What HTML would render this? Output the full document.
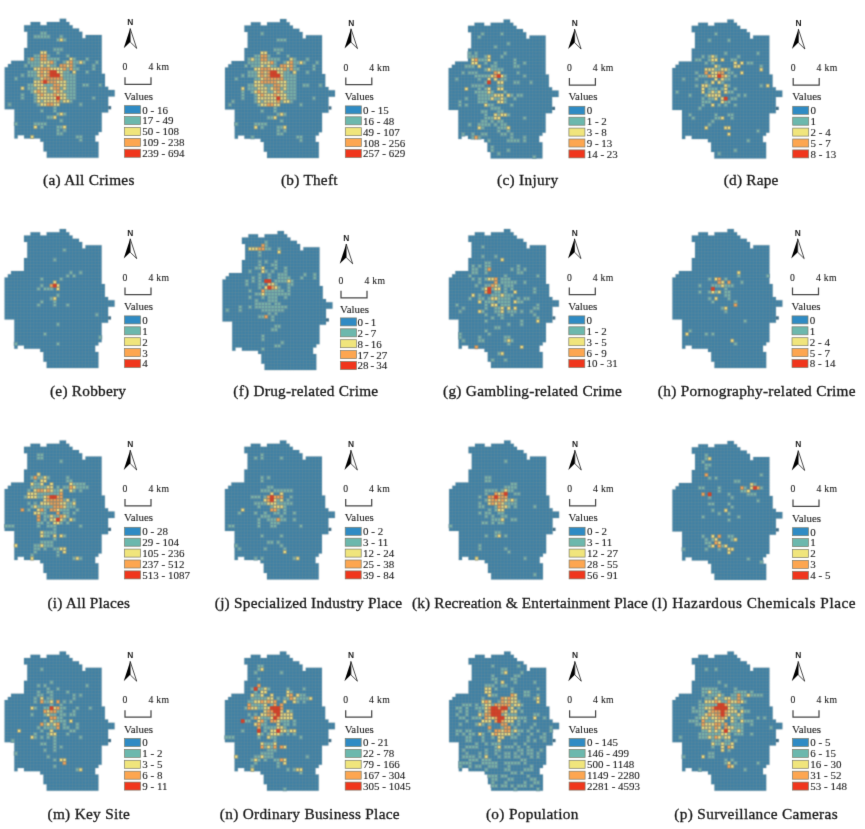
<!DOCTYPE html>
<html lang="en"><head><meta charset="utf-8"><title>Figure</title>
<style>
html,body{margin:0;padding:0;background:#fff;overflow:hidden}
svg{display:block}
text{font-family:"Liberation Serif","Times New Roman",serif;fill:#222}
.c{font-size:15.3px;fill:#1a1a1a;stroke:#1a1a1a;stroke-width:0.32px}
.l{font-size:11px;word-spacing:0px;stroke:#333;stroke-width:0.12px}
.v{font-size:10.9px;stroke:#333;stroke-width:0.12px}
.s{font-size:9.7px;stroke:#333;stroke-width:0.12px}
.n{font-family:"Liberation Sans",Arial,sans-serif;font-size:8.4px;font-weight:bold;fill:#222}
</style></head><body>
<svg width="865" height="829" viewBox="0 0 865 829">
<rect width="865" height="829" fill="#fff"/>
<defs>
<filter id="bm" x="-5%" y="-5%" width="110%" height="110%" color-interpolation-filters="sRGB"><feConvolveMatrix order="3" kernelMatrix="1 3 1 3 9 3 1 3 1" divisor="25" edgeMode="none"/></filter><filter id="bt" x="-5%" y="-20%" width="110%" height="140%" color-interpolation-filters="sRGB"><feConvolveMatrix order="3" kernelMatrix="0 1 0 1 8 1 0 1 0" divisor="12" edgeMode="none"/></filter>
<g id="base"><path d="M54.995 0H61.465V3.635H54.995zM25.88 3.235H35.585V6.87H25.88zM42.055 3.235H64.7V6.87H42.055zM19.41 6.47H67.935V10.105H19.41zM19.41 9.705H74.405V12.94H19.41zM22.645 12.94H77.64V16.575H22.645zM22.645 16.175H77.64V19.81H22.645zM80.875 16.175H97.05V19.81H80.875zM22.645 19.41H97.05V23.045H22.645zM22.645 22.645H97.05V26.28H22.645zM22.645 25.88H97.05V29.515H22.645zM19.41 29.115H97.05V32.75H19.41zM19.41 32.35H97.05V35.985H19.41zM19.41 35.585H97.05V39.22H19.41zM19.41 38.82H97.05V42.455H19.41zM6.47 42.055H97.05V45.69H6.47zM3.235 45.29H97.05V48.925H3.235zM0 48.525H97.05V52.16H0zM0 51.76H97.05V55.395H0zM0 54.995H100.285V58.63H0zM0 58.23H100.285V61.865H0zM0 61.465H100.285V65.1H0zM0 64.7H100.285V68.335H0zM0 67.935H103.52V71.57H0zM0 71.17H109.99V74.805H0zM0 74.405H109.99V77.64H0zM0 77.64H103.52V81.275H0zM0 80.875H103.52V84.51H0zM0 84.11H103.52V87.745H0zM0 87.345H103.52V90.58H0zM9.705 90.58H103.52V93.815H9.705zM9.705 93.815H97.05V97.45H9.705zM9.705 97.05H97.05V100.685H9.705zM9.705 100.285H97.05V103.92H9.705zM9.705 103.52H97.05V107.155H9.705zM9.705 106.755H97.05V110.39H9.705zM9.705 109.99H97.05V113.225H9.705zM9.705 113.225H93.815V116.46H9.705zM9.705 116.46H12.94V119.695H9.705zM19.41 116.46H90.58V119.695H19.41zM35.585 119.695H90.58V122.93H35.585zM38.82 122.93H93.815V126.565H38.82zM38.82 126.165H93.815V129.8H38.82zM38.82 129.4H93.815V132.635H38.82zM42.055 132.635H93.815V136.27H42.055zM42.055 135.87H93.815V139.105H42.055z" fill="#3e80a5"/><path d="M54.995 0H61.465M25.88 3.235H35.585M42.055 3.235H64.7M19.41 6.47H67.935M19.41 9.705H74.405M19.41 12.94H77.64M22.645 16.175H77.64M80.875 16.175H97.05M22.645 19.41H97.05M22.645 22.645H97.05M22.645 25.88H97.05M19.41 29.115H97.05M19.41 32.35H97.05M19.41 35.585H97.05M19.41 38.82H97.05M6.47 42.055H97.05M3.235 45.29H97.05M0 48.525H97.05M0 51.76H97.05M0 54.995H100.285M0 58.23H100.285M0 61.465H100.285M0 64.7H100.285M0 67.935H103.52M0 71.17H109.99M0 74.405H109.99M0 77.64H109.99M0 80.875H103.52M0 84.11H103.52M0 87.345H103.52M0 90.58H103.52M9.705 93.815H103.52M9.705 97.05H97.05M9.705 100.285H97.05M9.705 103.52H97.05M9.705 106.755H97.05M9.705 109.99H97.05M9.705 113.225H97.05M9.705 116.46H93.815M9.705 119.695H12.94M19.41 119.695H90.58M35.585 122.93H93.815M38.82 126.165H93.815M38.82 129.4H93.815M38.82 132.635H93.815M42.055 135.87H93.815M42.055 139.105H93.815M0 48.525V90.58M3.235 45.29V90.58M6.47 42.055V90.58M9.705 42.055V119.695M12.94 42.055V119.695M16.175 42.055V116.46M19.41 6.47V12.94M19.41 29.115V119.695M22.645 6.47V119.695M25.88 3.235V119.695M29.115 3.235V119.695M32.35 3.235V119.695M35.585 3.235V122.93M38.82 6.47V132.635M42.055 3.235V139.105M45.29 3.235V139.105M48.525 3.235V139.105M51.76 3.235V139.105M54.995 0V139.105M58.23 0V139.105M61.465 0V139.105M64.7 3.235V139.105M67.935 6.47V139.105M71.17 9.705V139.105M74.405 9.705V139.105M77.64 12.94V139.105M80.875 16.175V139.105M84.11 16.175V139.105M87.345 16.175V139.105M90.58 16.175V139.105M93.815 16.175V116.46M93.815 122.93V139.105M97.05 16.175V113.225M100.285 54.995V93.815M103.52 67.935V93.815M106.755 71.17V77.64M109.99 71.17V77.64" fill="none" stroke="#8a9793" stroke-width="0.8" stroke-opacity="0.3"/><rect x="103.52" y="87.345" width="2.911" height="3.235" fill="#3f6c85"/></g>
<g id="arw"><path d="M6 9.8L-0.5 29.6L6 23.2Z" fill="#000"/><path d="M6 9.8L12.5 29.6L6 23.2Z" fill="#fff" stroke="#000" stroke-width="0.7" stroke-linejoin="miter"/></g>
<path id="sbar" d="M0.8 58.6V65.6H26.8V58.6" fill="none" stroke="#484848" stroke-width="1.25"/>
</defs>
<!-- panel a -->
<g transform="translate(4.7 18.76)" filter="url(#bm)">
<use href="#base"/>
<path d="M35.585 12.94h3.235v3.235h-3.235zM38.82 12.94h3.235v3.235h-3.235zM29.115 16.175h3.235v3.235h-3.235zM32.35 16.175h3.235v3.235h-3.235zM35.585 16.175h3.235v3.235h-3.235zM38.82 16.175h3.235v3.235h-3.235zM42.055 16.175h3.235v3.235h-3.235zM54.995 16.175h3.235v3.235h-3.235zM51.76 19.41h3.235v3.235h-3.235zM58.23 19.41h3.235v3.235h-3.235zM48.525 29.115h3.235v3.235h-3.235zM51.76 29.115h3.235v3.235h-3.235zM54.995 29.115h3.235v3.235h-3.235zM51.76 32.35h3.235v3.235h-3.235zM29.115 35.585h3.235v3.235h-3.235zM32.35 35.585h3.235v3.235h-3.235zM42.055 35.585h3.235v3.235h-3.235zM61.465 35.585h3.235v3.235h-3.235zM22.645 38.82h3.235v3.235h-3.235zM29.115 38.82h3.235v3.235h-3.235zM32.35 38.82h3.235v3.235h-3.235zM42.055 38.82h3.235v3.235h-3.235zM45.29 38.82h3.235v3.235h-3.235zM48.525 38.82h3.235v3.235h-3.235zM51.76 38.82h3.235v3.235h-3.235zM67.935 38.82h3.235v3.235h-3.235zM80.875 38.82h3.235v3.235h-3.235zM22.645 42.055h3.235v3.235h-3.235zM25.88 42.055h3.235v3.235h-3.235zM29.115 42.055h3.235v3.235h-3.235zM32.35 42.055h3.235v3.235h-3.235zM48.525 42.055h3.235v3.235h-3.235zM58.23 42.055h3.235v3.235h-3.235zM67.935 42.055h3.235v3.235h-3.235zM71.17 42.055h3.235v3.235h-3.235zM77.64 42.055h3.235v3.235h-3.235zM90.58 42.055h3.235v3.235h-3.235zM19.41 45.29h3.235v3.235h-3.235zM25.88 45.29h3.235v3.235h-3.235zM29.115 45.29h3.235v3.235h-3.235zM32.35 45.29h3.235v3.235h-3.235zM38.82 45.29h3.235v3.235h-3.235zM45.29 45.29h3.235v3.235h-3.235zM48.525 45.29h3.235v3.235h-3.235zM67.935 45.29h3.235v3.235h-3.235zM87.345 45.29h3.235v3.235h-3.235zM61.465 48.525h3.235v3.235h-3.235zM67.935 48.525h3.235v3.235h-3.235zM71.17 48.525h3.235v3.235h-3.235zM87.345 48.525h3.235v3.235h-3.235zM22.645 51.76h3.235v3.235h-3.235zM25.88 51.76h3.235v3.235h-3.235zM29.115 51.76h3.235v3.235h-3.235zM58.23 51.76h3.235v3.235h-3.235zM61.465 51.76h3.235v3.235h-3.235zM80.875 51.76h3.235v3.235h-3.235zM16.175 54.995h3.235v3.235h-3.235zM22.645 54.995h3.235v3.235h-3.235zM25.88 54.995h3.235v3.235h-3.235zM29.115 54.995h3.235v3.235h-3.235zM58.23 54.995h3.235v3.235h-3.235zM61.465 54.995h3.235v3.235h-3.235zM64.7 54.995h3.235v3.235h-3.235zM67.935 54.995h3.235v3.235h-3.235zM9.705 58.23h3.235v3.235h-3.235zM29.115 58.23h3.235v3.235h-3.235zM32.35 58.23h3.235v3.235h-3.235zM58.23 58.23h3.235v3.235h-3.235zM61.465 58.23h3.235v3.235h-3.235zM64.7 58.23h3.235v3.235h-3.235zM67.935 58.23h3.235v3.235h-3.235zM61.465 61.465h3.235v3.235h-3.235zM64.7 61.465h3.235v3.235h-3.235zM67.935 61.465h3.235v3.235h-3.235zM22.645 64.7h3.235v3.235h-3.235zM25.88 64.7h3.235v3.235h-3.235zM38.82 64.7h3.235v3.235h-3.235zM42.055 64.7h3.235v3.235h-3.235zM45.29 64.7h3.235v3.235h-3.235zM61.465 64.7h3.235v3.235h-3.235zM64.7 64.7h3.235v3.235h-3.235zM67.935 64.7h3.235v3.235h-3.235zM77.64 64.7h3.235v3.235h-3.235zM80.875 64.7h3.235v3.235h-3.235zM93.815 64.7h3.235v3.235h-3.235zM22.645 67.935h3.235v3.235h-3.235zM25.88 67.935h3.235v3.235h-3.235zM29.115 67.935h3.235v3.235h-3.235zM42.055 67.935h3.235v3.235h-3.235zM54.995 67.935h3.235v3.235h-3.235zM61.465 67.935h3.235v3.235h-3.235zM64.7 67.935h3.235v3.235h-3.235zM67.935 67.935h3.235v3.235h-3.235zM25.88 71.17h3.235v3.235h-3.235zM42.055 71.17h3.235v3.235h-3.235zM45.29 71.17h3.235v3.235h-3.235zM58.23 71.17h3.235v3.235h-3.235zM61.465 71.17h3.235v3.235h-3.235zM64.7 71.17h3.235v3.235h-3.235zM67.935 71.17h3.235v3.235h-3.235zM16.175 74.405h3.235v3.235h-3.235zM29.115 74.405h3.235v3.235h-3.235zM61.465 74.405h3.235v3.235h-3.235zM64.7 74.405h3.235v3.235h-3.235zM67.935 74.405h3.235v3.235h-3.235zM16.175 77.64h3.235v3.235h-3.235zM29.115 77.64h3.235v3.235h-3.235zM61.465 77.64h3.235v3.235h-3.235zM64.7 77.64h3.235v3.235h-3.235zM67.935 77.64h3.235v3.235h-3.235zM87.345 77.64h3.235v3.235h-3.235zM29.115 80.875h3.235v3.235h-3.235zM35.585 80.875h3.235v3.235h-3.235zM54.995 80.875h3.235v3.235h-3.235zM64.7 80.875h3.235v3.235h-3.235zM3.235 84.11h3.235v3.235h-3.235zM32.35 84.11h3.235v3.235h-3.235zM74.405 84.11h3.235v3.235h-3.235zM48.525 87.345h3.235v3.235h-3.235zM35.585 90.58h3.235v3.235h-3.235zM48.525 90.58h3.235v3.235h-3.235zM51.76 93.815h3.235v3.235h-3.235zM58.23 93.815h3.235v3.235h-3.235zM42.055 97.05h3.235v3.235h-3.235zM45.29 97.05h3.235v3.235h-3.235zM54.995 100.285h3.235v3.235h-3.235zM9.705 103.52h3.235v3.235h-3.235zM29.115 103.52h3.235v3.235h-3.235zM32.35 103.52h3.235v3.235h-3.235zM35.585 103.52h3.235v3.235h-3.235zM38.82 103.52h3.235v3.235h-3.235zM35.585 106.755h3.235v3.235h-3.235zM51.76 106.755h3.235v3.235h-3.235zM54.995 106.755h3.235v3.235h-3.235zM51.76 109.99h3.235v3.235h-3.235zM58.23 109.99h3.235v3.235h-3.235zM51.76 113.225h3.235v3.235h-3.235zM54.995 113.225h3.235v3.235h-3.235zM71.17 116.46h3.235v3.235h-3.235zM74.405 116.46h3.235v3.235h-3.235zM74.405 119.695h3.235v3.235h-3.235z" fill="#7ab3a6" stroke="#6691a0" stroke-width="1.05"/>
<path d="M54.995 19.41h3.235v3.235h-3.235zM35.585 32.35h3.235v3.235h-3.235zM38.82 32.35h3.235v3.235h-3.235zM64.7 38.82h3.235v3.235h-3.235zM35.585 42.055h3.235v3.235h-3.235zM38.82 42.055h3.235v3.235h-3.235zM42.055 42.055h3.235v3.235h-3.235zM61.465 42.055h3.235v3.235h-3.235zM74.405 42.055h3.235v3.235h-3.235zM35.585 45.29h3.235v3.235h-3.235zM42.055 45.29h3.235v3.235h-3.235zM61.465 45.29h3.235v3.235h-3.235zM29.115 48.525h3.235v3.235h-3.235zM32.35 48.525h3.235v3.235h-3.235zM45.29 48.525h3.235v3.235h-3.235zM48.525 48.525h3.235v3.235h-3.235zM51.76 48.525h3.235v3.235h-3.235zM54.995 48.525h3.235v3.235h-3.235zM32.35 51.76h3.235v3.235h-3.235zM38.82 51.76h3.235v3.235h-3.235zM51.76 51.76h3.235v3.235h-3.235zM54.995 51.76h3.235v3.235h-3.235zM67.935 51.76h3.235v3.235h-3.235zM32.35 54.995h3.235v3.235h-3.235zM38.82 54.995h3.235v3.235h-3.235zM54.995 54.995h3.235v3.235h-3.235zM35.585 58.23h3.235v3.235h-3.235zM29.115 61.465h3.235v3.235h-3.235zM32.35 61.465h3.235v3.235h-3.235zM51.76 61.465h3.235v3.235h-3.235zM54.995 61.465h3.235v3.235h-3.235zM58.23 61.465h3.235v3.235h-3.235zM29.115 64.7h3.235v3.235h-3.235zM32.35 64.7h3.235v3.235h-3.235zM35.585 64.7h3.235v3.235h-3.235zM54.995 64.7h3.235v3.235h-3.235zM58.23 64.7h3.235v3.235h-3.235zM16.175 67.935h3.235v3.235h-3.235zM32.35 67.935h3.235v3.235h-3.235zM35.585 67.935h3.235v3.235h-3.235zM38.82 67.935h3.235v3.235h-3.235zM45.29 67.935h3.235v3.235h-3.235zM58.23 67.935h3.235v3.235h-3.235zM29.115 71.17h3.235v3.235h-3.235zM35.585 71.17h3.235v3.235h-3.235zM38.82 71.17h3.235v3.235h-3.235zM48.525 71.17h3.235v3.235h-3.235zM54.995 71.17h3.235v3.235h-3.235zM32.35 74.405h3.235v3.235h-3.235zM38.82 74.405h3.235v3.235h-3.235zM42.055 74.405h3.235v3.235h-3.235zM45.29 74.405h3.235v3.235h-3.235zM51.76 74.405h3.235v3.235h-3.235zM54.995 74.405h3.235v3.235h-3.235zM58.23 74.405h3.235v3.235h-3.235zM32.35 77.64h3.235v3.235h-3.235zM35.585 77.64h3.235v3.235h-3.235zM38.82 77.64h3.235v3.235h-3.235zM42.055 77.64h3.235v3.235h-3.235zM45.29 77.64h3.235v3.235h-3.235zM48.525 77.64h3.235v3.235h-3.235zM54.995 77.64h3.235v3.235h-3.235zM58.23 77.64h3.235v3.235h-3.235zM32.35 80.875h3.235v3.235h-3.235zM38.82 80.875h3.235v3.235h-3.235zM42.055 80.875h3.235v3.235h-3.235zM45.29 80.875h3.235v3.235h-3.235zM48.525 80.875h3.235v3.235h-3.235zM58.23 80.875h3.235v3.235h-3.235zM61.465 80.875h3.235v3.235h-3.235zM35.585 84.11h3.235v3.235h-3.235zM38.82 84.11h3.235v3.235h-3.235zM48.525 84.11h3.235v3.235h-3.235zM51.76 84.11h3.235v3.235h-3.235zM54.995 93.815h3.235v3.235h-3.235zM48.525 97.05h3.235v3.235h-3.235zM29.115 106.755h3.235v3.235h-3.235zM58.23 106.755h3.235v3.235h-3.235zM25.88 116.46h3.235v3.235h-3.235z" fill="#f1e07f" stroke="#8d917c" stroke-width="0.85"/>
<path d="M35.585 35.585h3.235v3.235h-3.235zM38.82 35.585h3.235v3.235h-3.235zM25.88 38.82h3.235v3.235h-3.235zM35.585 38.82h3.235v3.235h-3.235zM38.82 38.82h3.235v3.235h-3.235zM45.29 42.055h3.235v3.235h-3.235zM64.7 42.055h3.235v3.235h-3.235zM54.995 45.29h3.235v3.235h-3.235zM58.23 45.29h3.235v3.235h-3.235zM64.7 45.29h3.235v3.235h-3.235zM35.585 48.525h3.235v3.235h-3.235zM38.82 48.525h3.235v3.235h-3.235zM42.055 48.525h3.235v3.235h-3.235zM58.23 48.525h3.235v3.235h-3.235zM64.7 48.525h3.235v3.235h-3.235zM35.585 51.76h3.235v3.235h-3.235zM42.055 51.76h3.235v3.235h-3.235zM35.585 54.995h3.235v3.235h-3.235zM42.055 54.995h3.235v3.235h-3.235zM38.82 58.23h3.235v3.235h-3.235zM42.055 58.23h3.235v3.235h-3.235zM45.29 58.23h3.235v3.235h-3.235zM48.525 58.23h3.235v3.235h-3.235zM51.76 58.23h3.235v3.235h-3.235zM54.995 58.23h3.235v3.235h-3.235zM35.585 61.465h3.235v3.235h-3.235zM42.055 61.465h3.235v3.235h-3.235zM45.29 61.465h3.235v3.235h-3.235zM48.525 61.465h3.235v3.235h-3.235zM48.525 64.7h3.235v3.235h-3.235zM51.76 64.7h3.235v3.235h-3.235zM48.525 67.935h3.235v3.235h-3.235zM51.76 67.935h3.235v3.235h-3.235zM32.35 71.17h3.235v3.235h-3.235zM51.76 71.17h3.235v3.235h-3.235zM35.585 74.405h3.235v3.235h-3.235zM48.525 74.405h3.235v3.235h-3.235zM51.76 80.875h3.235v3.235h-3.235zM42.055 84.11h3.235v3.235h-3.235zM45.29 84.11h3.235v3.235h-3.235z" fill="#f6a354" stroke="#92866e" stroke-width="0.85"/>
<path d="M45.29 51.76h3.235v3.235h-3.235zM48.525 51.76h3.235v3.235h-3.235zM45.29 54.995h3.235v3.235h-3.235zM48.525 54.995h3.235v3.235h-3.235zM51.76 54.995h3.235v3.235h-3.235zM38.82 61.465h3.235v3.235h-3.235zM51.76 77.64h3.235v3.235h-3.235z" fill="#d5412a" stroke="#c4472e" stroke-width="0.6"/>
</g>
<g transform="translate(124.2 18.76)" filter="url(#bt)">
<use href="#arw" y="0"/>
<text class="n" x="6.2" y="6.6" text-anchor="middle">N</text>
<use href="#sbar" y="0"/>
<text class="s" x="-1.6" y="51.5">0</text><text class="s" x="24.2" y="51.5" textLength="20.6" lengthAdjust="spacing">4 km</text>
<text class="v" x="-0.2" y="81">Values</text>
<rect x="0.3" y="86.9" width="16" height="8" fill="#2f8bc4" stroke="#7c7c6c" stroke-width="0.7"/>
<text class="l" x="18.1" y="94.8">0 - 16</text>
<rect x="0.3" y="97.8" width="16" height="8" fill="#6cb8ad" stroke="#7c7c6c" stroke-width="0.7"/>
<text class="l" x="18.1" y="105.7">17 - 49</text>
<rect x="0.3" y="108.7" width="16" height="8" fill="#f0e57c" stroke="#7c7c6c" stroke-width="0.7"/>
<text class="l" x="18.1" y="116.6">50 - 108</text>
<rect x="0.3" y="119.6" width="16" height="8" fill="#fda650" stroke="#7c7c6c" stroke-width="0.7"/>
<text class="l" x="18.1" y="127.5">109 - 238</text>
<rect x="0.3" y="130.5" width="16" height="8" fill="#f0361c" stroke="#7c7c6c" stroke-width="0.7"/>
<text class="l" x="18.1" y="138.4">239 - 694</text>
</g>
<text class="c" filter="url(#bt)" x="43" y="185.2" textLength="91.4" lengthAdjust="spacing">(a) All Crimes</text>
<!-- panel b -->
<g transform="translate(225 19)" filter="url(#bm)">
<use href="#base"/>
<path d="M35.585 12.94h3.235v3.235h-3.235zM51.76 19.41h3.235v3.235h-3.235zM54.995 19.41h3.235v3.235h-3.235zM58.23 19.41h3.235v3.235h-3.235zM48.525 29.115h3.235v3.235h-3.235zM51.76 29.115h3.235v3.235h-3.235zM54.995 29.115h3.235v3.235h-3.235zM51.76 32.35h3.235v3.235h-3.235zM29.115 35.585h3.235v3.235h-3.235zM32.35 35.585h3.235v3.235h-3.235zM42.055 35.585h3.235v3.235h-3.235zM61.465 35.585h3.235v3.235h-3.235zM22.645 38.82h3.235v3.235h-3.235zM29.115 38.82h3.235v3.235h-3.235zM32.35 38.82h3.235v3.235h-3.235zM42.055 38.82h3.235v3.235h-3.235zM45.29 38.82h3.235v3.235h-3.235zM48.525 38.82h3.235v3.235h-3.235zM51.76 38.82h3.235v3.235h-3.235zM67.935 38.82h3.235v3.235h-3.235zM80.875 38.82h3.235v3.235h-3.235zM22.645 42.055h3.235v3.235h-3.235zM25.88 42.055h3.235v3.235h-3.235zM29.115 42.055h3.235v3.235h-3.235zM32.35 42.055h3.235v3.235h-3.235zM48.525 42.055h3.235v3.235h-3.235zM58.23 42.055h3.235v3.235h-3.235zM67.935 42.055h3.235v3.235h-3.235zM71.17 42.055h3.235v3.235h-3.235zM77.64 42.055h3.235v3.235h-3.235zM90.58 42.055h3.235v3.235h-3.235zM19.41 45.29h3.235v3.235h-3.235zM25.88 45.29h3.235v3.235h-3.235zM29.115 45.29h3.235v3.235h-3.235zM32.35 45.29h3.235v3.235h-3.235zM38.82 45.29h3.235v3.235h-3.235zM45.29 45.29h3.235v3.235h-3.235zM48.525 45.29h3.235v3.235h-3.235zM67.935 45.29h3.235v3.235h-3.235zM87.345 45.29h3.235v3.235h-3.235zM61.465 48.525h3.235v3.235h-3.235zM67.935 48.525h3.235v3.235h-3.235zM71.17 48.525h3.235v3.235h-3.235zM87.345 48.525h3.235v3.235h-3.235zM22.645 51.76h3.235v3.235h-3.235zM25.88 51.76h3.235v3.235h-3.235zM29.115 51.76h3.235v3.235h-3.235zM58.23 51.76h3.235v3.235h-3.235zM61.465 51.76h3.235v3.235h-3.235zM80.875 51.76h3.235v3.235h-3.235zM16.175 54.995h3.235v3.235h-3.235zM22.645 54.995h3.235v3.235h-3.235zM25.88 54.995h3.235v3.235h-3.235zM29.115 54.995h3.235v3.235h-3.235zM58.23 54.995h3.235v3.235h-3.235zM61.465 54.995h3.235v3.235h-3.235zM64.7 54.995h3.235v3.235h-3.235zM67.935 54.995h3.235v3.235h-3.235zM9.705 58.23h3.235v3.235h-3.235zM29.115 58.23h3.235v3.235h-3.235zM32.35 58.23h3.235v3.235h-3.235zM58.23 58.23h3.235v3.235h-3.235zM61.465 58.23h3.235v3.235h-3.235zM64.7 58.23h3.235v3.235h-3.235zM67.935 58.23h3.235v3.235h-3.235zM61.465 61.465h3.235v3.235h-3.235zM64.7 61.465h3.235v3.235h-3.235zM67.935 61.465h3.235v3.235h-3.235zM22.645 64.7h3.235v3.235h-3.235zM25.88 64.7h3.235v3.235h-3.235zM38.82 64.7h3.235v3.235h-3.235zM42.055 64.7h3.235v3.235h-3.235zM45.29 64.7h3.235v3.235h-3.235zM61.465 64.7h3.235v3.235h-3.235zM64.7 64.7h3.235v3.235h-3.235zM67.935 64.7h3.235v3.235h-3.235zM77.64 64.7h3.235v3.235h-3.235zM80.875 64.7h3.235v3.235h-3.235zM93.815 64.7h3.235v3.235h-3.235zM22.645 67.935h3.235v3.235h-3.235zM25.88 67.935h3.235v3.235h-3.235zM29.115 67.935h3.235v3.235h-3.235zM42.055 67.935h3.235v3.235h-3.235zM54.995 67.935h3.235v3.235h-3.235zM61.465 67.935h3.235v3.235h-3.235zM64.7 67.935h3.235v3.235h-3.235zM67.935 67.935h3.235v3.235h-3.235zM16.175 71.17h3.235v3.235h-3.235zM25.88 71.17h3.235v3.235h-3.235zM42.055 71.17h3.235v3.235h-3.235zM45.29 71.17h3.235v3.235h-3.235zM58.23 71.17h3.235v3.235h-3.235zM61.465 71.17h3.235v3.235h-3.235zM64.7 71.17h3.235v3.235h-3.235zM67.935 71.17h3.235v3.235h-3.235zM16.175 74.405h3.235v3.235h-3.235zM29.115 74.405h3.235v3.235h-3.235zM61.465 74.405h3.235v3.235h-3.235zM64.7 74.405h3.235v3.235h-3.235zM67.935 74.405h3.235v3.235h-3.235zM16.175 77.64h3.235v3.235h-3.235zM29.115 77.64h3.235v3.235h-3.235zM61.465 77.64h3.235v3.235h-3.235zM64.7 77.64h3.235v3.235h-3.235zM67.935 77.64h3.235v3.235h-3.235zM87.345 77.64h3.235v3.235h-3.235zM6.47 80.875h3.235v3.235h-3.235zM29.115 80.875h3.235v3.235h-3.235zM35.585 80.875h3.235v3.235h-3.235zM54.995 80.875h3.235v3.235h-3.235zM64.7 80.875h3.235v3.235h-3.235zM3.235 84.11h3.235v3.235h-3.235zM32.35 84.11h3.235v3.235h-3.235zM74.405 84.11h3.235v3.235h-3.235zM48.525 87.345h3.235v3.235h-3.235zM35.585 90.58h3.235v3.235h-3.235zM48.525 90.58h3.235v3.235h-3.235zM51.76 93.815h3.235v3.235h-3.235zM58.23 93.815h3.235v3.235h-3.235zM42.055 97.05h3.235v3.235h-3.235zM45.29 97.05h3.235v3.235h-3.235zM54.995 100.285h3.235v3.235h-3.235zM9.705 103.52h3.235v3.235h-3.235zM29.115 103.52h3.235v3.235h-3.235zM32.35 103.52h3.235v3.235h-3.235zM35.585 103.52h3.235v3.235h-3.235zM38.82 103.52h3.235v3.235h-3.235zM35.585 106.755h3.235v3.235h-3.235zM51.76 106.755h3.235v3.235h-3.235zM54.995 106.755h3.235v3.235h-3.235zM51.76 109.99h3.235v3.235h-3.235zM58.23 109.99h3.235v3.235h-3.235zM51.76 113.225h3.235v3.235h-3.235zM54.995 113.225h3.235v3.235h-3.235zM25.88 116.46h3.235v3.235h-3.235zM71.17 116.46h3.235v3.235h-3.235zM74.405 116.46h3.235v3.235h-3.235zM74.405 119.695h3.235v3.235h-3.235z" fill="#7ab3a6" stroke="#6691a0" stroke-width="1.05"/>
<path d="M35.585 32.35h3.235v3.235h-3.235zM38.82 32.35h3.235v3.235h-3.235zM25.88 38.82h3.235v3.235h-3.235zM64.7 38.82h3.235v3.235h-3.235zM35.585 42.055h3.235v3.235h-3.235zM38.82 42.055h3.235v3.235h-3.235zM42.055 42.055h3.235v3.235h-3.235zM61.465 42.055h3.235v3.235h-3.235zM74.405 42.055h3.235v3.235h-3.235zM35.585 45.29h3.235v3.235h-3.235zM42.055 45.29h3.235v3.235h-3.235zM61.465 45.29h3.235v3.235h-3.235zM29.115 48.525h3.235v3.235h-3.235zM32.35 48.525h3.235v3.235h-3.235zM45.29 48.525h3.235v3.235h-3.235zM48.525 48.525h3.235v3.235h-3.235zM51.76 48.525h3.235v3.235h-3.235zM54.995 48.525h3.235v3.235h-3.235zM32.35 51.76h3.235v3.235h-3.235zM38.82 51.76h3.235v3.235h-3.235zM51.76 51.76h3.235v3.235h-3.235zM54.995 51.76h3.235v3.235h-3.235zM67.935 51.76h3.235v3.235h-3.235zM32.35 54.995h3.235v3.235h-3.235zM38.82 54.995h3.235v3.235h-3.235zM54.995 54.995h3.235v3.235h-3.235zM35.585 58.23h3.235v3.235h-3.235zM29.115 61.465h3.235v3.235h-3.235zM32.35 61.465h3.235v3.235h-3.235zM51.76 61.465h3.235v3.235h-3.235zM54.995 61.465h3.235v3.235h-3.235zM58.23 61.465h3.235v3.235h-3.235zM29.115 64.7h3.235v3.235h-3.235zM32.35 64.7h3.235v3.235h-3.235zM35.585 64.7h3.235v3.235h-3.235zM54.995 64.7h3.235v3.235h-3.235zM58.23 64.7h3.235v3.235h-3.235zM16.175 67.935h3.235v3.235h-3.235zM32.35 67.935h3.235v3.235h-3.235zM35.585 67.935h3.235v3.235h-3.235zM38.82 67.935h3.235v3.235h-3.235zM45.29 67.935h3.235v3.235h-3.235zM58.23 67.935h3.235v3.235h-3.235zM29.115 71.17h3.235v3.235h-3.235zM35.585 71.17h3.235v3.235h-3.235zM38.82 71.17h3.235v3.235h-3.235zM48.525 71.17h3.235v3.235h-3.235zM54.995 71.17h3.235v3.235h-3.235zM32.35 74.405h3.235v3.235h-3.235zM38.82 74.405h3.235v3.235h-3.235zM42.055 74.405h3.235v3.235h-3.235zM45.29 74.405h3.235v3.235h-3.235zM51.76 74.405h3.235v3.235h-3.235zM54.995 74.405h3.235v3.235h-3.235zM58.23 74.405h3.235v3.235h-3.235zM32.35 77.64h3.235v3.235h-3.235zM35.585 77.64h3.235v3.235h-3.235zM38.82 77.64h3.235v3.235h-3.235zM42.055 77.64h3.235v3.235h-3.235zM45.29 77.64h3.235v3.235h-3.235zM48.525 77.64h3.235v3.235h-3.235zM54.995 77.64h3.235v3.235h-3.235zM58.23 77.64h3.235v3.235h-3.235zM32.35 80.875h3.235v3.235h-3.235zM38.82 80.875h3.235v3.235h-3.235zM42.055 80.875h3.235v3.235h-3.235zM45.29 80.875h3.235v3.235h-3.235zM48.525 80.875h3.235v3.235h-3.235zM58.23 80.875h3.235v3.235h-3.235zM61.465 80.875h3.235v3.235h-3.235zM35.585 84.11h3.235v3.235h-3.235zM38.82 84.11h3.235v3.235h-3.235zM48.525 84.11h3.235v3.235h-3.235zM51.76 84.11h3.235v3.235h-3.235zM54.995 93.815h3.235v3.235h-3.235zM48.525 97.05h3.235v3.235h-3.235zM29.115 106.755h3.235v3.235h-3.235zM58.23 106.755h3.235v3.235h-3.235z" fill="#f1e07f" stroke="#8d917c" stroke-width="0.85"/>
<path d="M35.585 35.585h3.235v3.235h-3.235zM38.82 35.585h3.235v3.235h-3.235zM35.585 38.82h3.235v3.235h-3.235zM38.82 38.82h3.235v3.235h-3.235zM45.29 42.055h3.235v3.235h-3.235zM64.7 42.055h3.235v3.235h-3.235zM54.995 45.29h3.235v3.235h-3.235zM58.23 45.29h3.235v3.235h-3.235zM64.7 45.29h3.235v3.235h-3.235zM35.585 48.525h3.235v3.235h-3.235zM38.82 48.525h3.235v3.235h-3.235zM42.055 48.525h3.235v3.235h-3.235zM58.23 48.525h3.235v3.235h-3.235zM64.7 48.525h3.235v3.235h-3.235zM35.585 51.76h3.235v3.235h-3.235zM42.055 51.76h3.235v3.235h-3.235zM35.585 54.995h3.235v3.235h-3.235zM42.055 54.995h3.235v3.235h-3.235zM38.82 58.23h3.235v3.235h-3.235zM42.055 58.23h3.235v3.235h-3.235zM45.29 58.23h3.235v3.235h-3.235zM48.525 58.23h3.235v3.235h-3.235zM51.76 58.23h3.235v3.235h-3.235zM54.995 58.23h3.235v3.235h-3.235zM35.585 61.465h3.235v3.235h-3.235zM38.82 61.465h3.235v3.235h-3.235zM42.055 61.465h3.235v3.235h-3.235zM45.29 61.465h3.235v3.235h-3.235zM48.525 61.465h3.235v3.235h-3.235zM48.525 64.7h3.235v3.235h-3.235zM51.76 64.7h3.235v3.235h-3.235zM48.525 67.935h3.235v3.235h-3.235zM51.76 67.935h3.235v3.235h-3.235zM32.35 71.17h3.235v3.235h-3.235zM51.76 71.17h3.235v3.235h-3.235zM35.585 74.405h3.235v3.235h-3.235zM48.525 74.405h3.235v3.235h-3.235zM51.76 80.875h3.235v3.235h-3.235zM42.055 84.11h3.235v3.235h-3.235zM45.29 84.11h3.235v3.235h-3.235z" fill="#f6a354" stroke="#92866e" stroke-width="0.85"/>
<path d="M45.29 51.76h3.235v3.235h-3.235zM48.525 51.76h3.235v3.235h-3.235zM45.29 54.995h3.235v3.235h-3.235zM48.525 54.995h3.235v3.235h-3.235zM51.76 54.995h3.235v3.235h-3.235zM51.76 77.64h3.235v3.235h-3.235z" fill="#d5412a" stroke="#c4472e" stroke-width="0.6"/>
</g>
<g transform="translate(345 19)" filter="url(#bt)">
<use href="#arw" y="0"/>
<text class="n" x="6.2" y="6.6" text-anchor="middle">N</text>
<use href="#sbar" y="0"/>
<text class="s" x="-1.6" y="51.5">0</text><text class="s" x="24.2" y="51.5" textLength="20.6" lengthAdjust="spacing">4 km</text>
<text class="v" x="-0.2" y="81">Values</text>
<rect x="0.3" y="86.9" width="16" height="8" fill="#2f8bc4" stroke="#7c7c6c" stroke-width="0.7"/>
<text class="l" x="18.1" y="94.8">0 - 15</text>
<rect x="0.3" y="97.8" width="16" height="8" fill="#6cb8ad" stroke="#7c7c6c" stroke-width="0.7"/>
<text class="l" x="18.1" y="105.7">16 - 48</text>
<rect x="0.3" y="108.7" width="16" height="8" fill="#f0e57c" stroke="#7c7c6c" stroke-width="0.7"/>
<text class="l" x="18.1" y="116.6">49 - 107</text>
<rect x="0.3" y="119.6" width="16" height="8" fill="#fda650" stroke="#7c7c6c" stroke-width="0.7"/>
<text class="l" x="18.1" y="127.5">108 - 256</text>
<rect x="0.3" y="130.5" width="16" height="8" fill="#f0361c" stroke="#7c7c6c" stroke-width="0.7"/>
<text class="l" x="18.1" y="138.4">257 - 629</text>
</g>
<text class="c" filter="url(#bt)" x="281" y="185.2" textLength="56.5" lengthAdjust="spacing">(b) Theft</text>
<!-- panel c -->
<g transform="translate(448.6 19.4)" filter="url(#bm)">
<use href="#base"/>
<path d="M32.35 12.94h3.235v3.235h-3.235zM51.76 12.94h3.235v3.235h-3.235zM29.115 16.175h3.235v3.235h-3.235zM58.23 22.645h3.235v3.235h-3.235zM45.29 25.88h3.235v3.235h-3.235zM19.41 32.35h3.235v3.235h-3.235zM25.88 32.35h3.235v3.235h-3.235zM54.995 32.35h3.235v3.235h-3.235zM19.41 35.585h3.235v3.235h-3.235zM22.645 35.585h3.235v3.235h-3.235zM25.88 35.585h3.235v3.235h-3.235zM35.585 35.585h3.235v3.235h-3.235zM51.76 35.585h3.235v3.235h-3.235zM29.115 38.82h3.235v3.235h-3.235zM32.35 38.82h3.235v3.235h-3.235zM35.585 38.82h3.235v3.235h-3.235zM64.7 38.82h3.235v3.235h-3.235zM35.585 42.055h3.235v3.235h-3.235zM45.29 42.055h3.235v3.235h-3.235zM64.7 42.055h3.235v3.235h-3.235zM74.405 42.055h3.235v3.235h-3.235zM16.175 45.29h3.235v3.235h-3.235zM19.41 45.29h3.235v3.235h-3.235zM22.645 45.29h3.235v3.235h-3.235zM42.055 45.29h3.235v3.235h-3.235zM45.29 45.29h3.235v3.235h-3.235zM64.7 45.29h3.235v3.235h-3.235zM67.935 45.29h3.235v3.235h-3.235zM35.585 48.525h3.235v3.235h-3.235zM42.055 48.525h3.235v3.235h-3.235zM45.29 48.525h3.235v3.235h-3.235zM48.525 48.525h3.235v3.235h-3.235zM51.76 48.525h3.235v3.235h-3.235zM12.94 51.76h3.235v3.235h-3.235zM19.41 51.76h3.235v3.235h-3.235zM22.645 51.76h3.235v3.235h-3.235zM25.88 51.76h3.235v3.235h-3.235zM67.935 51.76h3.235v3.235h-3.235zM25.88 54.995h3.235v3.235h-3.235zM29.115 54.995h3.235v3.235h-3.235zM32.35 54.995h3.235v3.235h-3.235zM35.585 54.995h3.235v3.235h-3.235zM38.82 54.995h3.235v3.235h-3.235zM54.995 54.995h3.235v3.235h-3.235zM74.405 54.995h3.235v3.235h-3.235zM6.47 58.23h3.235v3.235h-3.235zM29.115 58.23h3.235v3.235h-3.235zM51.76 58.23h3.235v3.235h-3.235zM54.995 58.23h3.235v3.235h-3.235zM35.585 61.465h3.235v3.235h-3.235zM64.7 61.465h3.235v3.235h-3.235zM67.935 61.465h3.235v3.235h-3.235zM80.875 61.465h3.235v3.235h-3.235zM22.645 64.7h3.235v3.235h-3.235zM25.88 64.7h3.235v3.235h-3.235zM29.115 64.7h3.235v3.235h-3.235zM32.35 64.7h3.235v3.235h-3.235zM48.525 64.7h3.235v3.235h-3.235zM51.76 64.7h3.235v3.235h-3.235zM29.115 67.935h3.235v3.235h-3.235zM35.585 67.935h3.235v3.235h-3.235zM25.88 71.17h3.235v3.235h-3.235zM29.115 71.17h3.235v3.235h-3.235zM32.35 71.17h3.235v3.235h-3.235zM35.585 71.17h3.235v3.235h-3.235zM42.055 71.17h3.235v3.235h-3.235zM54.995 71.17h3.235v3.235h-3.235zM29.115 74.405h3.235v3.235h-3.235zM32.35 74.405h3.235v3.235h-3.235zM35.585 74.405h3.235v3.235h-3.235zM38.82 74.405h3.235v3.235h-3.235zM42.055 74.405h3.235v3.235h-3.235zM61.465 74.405h3.235v3.235h-3.235zM67.935 74.405h3.235v3.235h-3.235zM71.17 74.405h3.235v3.235h-3.235zM16.175 77.64h3.235v3.235h-3.235zM29.115 77.64h3.235v3.235h-3.235zM32.35 77.64h3.235v3.235h-3.235zM35.585 77.64h3.235v3.235h-3.235zM38.82 77.64h3.235v3.235h-3.235zM45.29 77.64h3.235v3.235h-3.235zM48.525 77.64h3.235v3.235h-3.235zM54.995 77.64h3.235v3.235h-3.235zM64.7 77.64h3.235v3.235h-3.235zM9.705 80.875h3.235v3.235h-3.235zM29.115 80.875h3.235v3.235h-3.235zM32.35 80.875h3.235v3.235h-3.235zM35.585 80.875h3.235v3.235h-3.235zM54.995 80.875h3.235v3.235h-3.235zM9.705 84.11h3.235v3.235h-3.235zM16.175 84.11h3.235v3.235h-3.235zM38.82 84.11h3.235v3.235h-3.235zM42.055 84.11h3.235v3.235h-3.235zM61.465 84.11h3.235v3.235h-3.235zM42.055 87.345h3.235v3.235h-3.235zM45.29 87.345h3.235v3.235h-3.235zM48.525 87.345h3.235v3.235h-3.235zM32.35 90.58h3.235v3.235h-3.235zM35.585 90.58h3.235v3.235h-3.235zM48.525 90.58h3.235v3.235h-3.235zM51.76 90.58h3.235v3.235h-3.235zM35.585 93.815h3.235v3.235h-3.235zM48.525 93.815h3.235v3.235h-3.235zM58.23 93.815h3.235v3.235h-3.235zM35.585 97.05h3.235v3.235h-3.235zM38.82 97.05h3.235v3.235h-3.235zM42.055 97.05h3.235v3.235h-3.235zM74.405 97.05h3.235v3.235h-3.235zM32.35 100.285h3.235v3.235h-3.235zM35.585 100.285h3.235v3.235h-3.235zM42.055 100.285h3.235v3.235h-3.235zM48.525 100.285h3.235v3.235h-3.235zM51.76 100.285h3.235v3.235h-3.235zM19.41 103.52h3.235v3.235h-3.235zM29.115 103.52h3.235v3.235h-3.235zM32.35 103.52h3.235v3.235h-3.235zM35.585 103.52h3.235v3.235h-3.235zM38.82 103.52h3.235v3.235h-3.235zM45.29 103.52h3.235v3.235h-3.235zM51.76 103.52h3.235v3.235h-3.235zM54.995 103.52h3.235v3.235h-3.235zM32.35 106.755h3.235v3.235h-3.235zM48.525 106.755h3.235v3.235h-3.235zM51.76 106.755h3.235v3.235h-3.235zM54.995 106.755h3.235v3.235h-3.235zM48.525 109.99h3.235v3.235h-3.235zM58.23 109.99h3.235v3.235h-3.235zM12.94 113.225h3.235v3.235h-3.235zM22.645 113.225h3.235v3.235h-3.235zM32.35 113.225h3.235v3.235h-3.235zM35.585 113.225h3.235v3.235h-3.235zM51.76 113.225h3.235v3.235h-3.235zM54.995 113.225h3.235v3.235h-3.235zM61.465 113.225h3.235v3.235h-3.235zM22.645 116.46h3.235v3.235h-3.235zM29.115 116.46h3.235v3.235h-3.235zM61.465 116.46h3.235v3.235h-3.235zM74.405 116.46h3.235v3.235h-3.235zM38.82 119.695h3.235v3.235h-3.235zM58.23 119.695h3.235v3.235h-3.235zM61.465 119.695h3.235v3.235h-3.235zM64.7 119.695h3.235v3.235h-3.235zM67.935 119.695h3.235v3.235h-3.235zM74.405 119.695h3.235v3.235h-3.235zM42.055 126.165h3.235v3.235h-3.235zM42.055 129.4h3.235v3.235h-3.235zM58.23 129.4h3.235v3.235h-3.235zM48.525 132.635h3.235v3.235h-3.235zM84.11 135.87h3.235v3.235h-3.235z" fill="#7ab3a6" stroke="#6691a0" stroke-width="1.05"/>
<path d="M38.82 35.585h3.235v3.235h-3.235zM22.645 38.82h3.235v3.235h-3.235zM38.82 38.82h3.235v3.235h-3.235zM22.645 42.055h3.235v3.235h-3.235zM25.88 42.055h3.235v3.235h-3.235zM29.115 45.29h3.235v3.235h-3.235zM38.82 48.525h3.235v3.235h-3.235zM48.525 51.76h3.235v3.235h-3.235zM42.055 54.995h3.235v3.235h-3.235zM51.76 54.995h3.235v3.235h-3.235zM38.82 58.23h3.235v3.235h-3.235zM45.29 58.23h3.235v3.235h-3.235zM48.525 61.465h3.235v3.235h-3.235zM51.76 61.465h3.235v3.235h-3.235zM16.175 67.935h3.235v3.235h-3.235zM38.82 67.935h3.235v3.235h-3.235zM48.525 67.935h3.235v3.235h-3.235zM51.76 67.935h3.235v3.235h-3.235zM38.82 71.17h3.235v3.235h-3.235zM45.29 74.405h3.235v3.235h-3.235zM48.525 74.405h3.235v3.235h-3.235zM51.76 74.405h3.235v3.235h-3.235zM58.23 74.405h3.235v3.235h-3.235zM42.055 77.64h3.235v3.235h-3.235zM51.76 77.64h3.235v3.235h-3.235zM48.525 80.875h3.235v3.235h-3.235zM51.76 80.875h3.235v3.235h-3.235zM35.585 84.11h3.235v3.235h-3.235zM45.29 93.815h3.235v3.235h-3.235zM51.76 93.815h3.235v3.235h-3.235zM54.995 93.815h3.235v3.235h-3.235zM45.29 97.05h3.235v3.235h-3.235zM48.525 97.05h3.235v3.235h-3.235zM29.115 106.755h3.235v3.235h-3.235zM58.23 106.755h3.235v3.235h-3.235z" fill="#f1e07f" stroke="#8d917c" stroke-width="0.85"/>
<path d="M25.88 38.82h3.235v3.235h-3.235zM45.29 51.76h3.235v3.235h-3.235zM45.29 54.995h3.235v3.235h-3.235zM25.88 116.46h3.235v3.235h-3.235z" fill="#f6a354" stroke="#92866e" stroke-width="0.85"/>
<path d="M48.525 54.995h3.235v3.235h-3.235zM38.82 61.465h3.235v3.235h-3.235z" fill="#d5412a" stroke="#c4472e" stroke-width="0.6"/>
</g>
<g transform="translate(568.6 19.4)" filter="url(#bt)">
<use href="#arw" y="0"/>
<text class="n" x="6.2" y="6.6" text-anchor="middle">N</text>
<use href="#sbar" y="0"/>
<text class="s" x="-1.6" y="51.5">0</text><text class="s" x="24.2" y="51.5" textLength="20.6" lengthAdjust="spacing">4 km</text>
<text class="v" x="-0.2" y="81">Values</text>
<rect x="0.3" y="86.9" width="16" height="8" fill="#2f8bc4" stroke="#7c7c6c" stroke-width="0.7"/>
<text class="l" x="18.1" y="94.8">0</text>
<rect x="0.3" y="97.8" width="16" height="8" fill="#6cb8ad" stroke="#7c7c6c" stroke-width="0.7"/>
<text class="l" x="18.1" y="105.7">1 - 2</text>
<rect x="0.3" y="108.7" width="16" height="8" fill="#f0e57c" stroke="#7c7c6c" stroke-width="0.7"/>
<text class="l" x="18.1" y="116.6">3 - 8</text>
<rect x="0.3" y="119.6" width="16" height="8" fill="#fda650" stroke="#7c7c6c" stroke-width="0.7"/>
<text class="l" x="18.1" y="127.5">9 - 13</text>
<rect x="0.3" y="130.5" width="16" height="8" fill="#f0361c" stroke="#7c7c6c" stroke-width="0.7"/>
<text class="l" x="18.1" y="138.4">14 - 23</text>
</g>
<text class="c" filter="url(#bt)" x="497" y="185.2" textLength="61.1" lengthAdjust="spacing">(c) Injury</text>
<!-- panel d -->
<g transform="translate(672.3 19.4)" filter="url(#bm)">
<use href="#base"/>
<path d="M42.055 12.94h3.235v3.235h-3.235zM35.585 19.41h3.235v3.235h-3.235zM54.995 19.41h3.235v3.235h-3.235zM51.76 32.35h3.235v3.235h-3.235zM84.11 32.35h3.235v3.235h-3.235zM29.115 35.585h3.235v3.235h-3.235zM35.585 35.585h3.235v3.235h-3.235zM42.055 35.585h3.235v3.235h-3.235zM64.7 35.585h3.235v3.235h-3.235zM22.645 38.82h3.235v3.235h-3.235zM25.88 38.82h3.235v3.235h-3.235zM35.585 38.82h3.235v3.235h-3.235zM58.23 38.82h3.235v3.235h-3.235zM61.465 38.82h3.235v3.235h-3.235zM32.35 42.055h3.235v3.235h-3.235zM38.82 42.055h3.235v3.235h-3.235zM74.405 42.055h3.235v3.235h-3.235zM77.64 42.055h3.235v3.235h-3.235zM45.29 45.29h3.235v3.235h-3.235zM87.345 45.29h3.235v3.235h-3.235zM42.055 48.525h3.235v3.235h-3.235zM45.29 48.525h3.235v3.235h-3.235zM54.995 48.525h3.235v3.235h-3.235zM22.645 51.76h3.235v3.235h-3.235zM54.995 51.76h3.235v3.235h-3.235zM58.23 51.76h3.235v3.235h-3.235zM25.88 54.995h3.235v3.235h-3.235zM29.115 54.995h3.235v3.235h-3.235zM32.35 54.995h3.235v3.235h-3.235zM54.995 54.995h3.235v3.235h-3.235zM61.465 54.995h3.235v3.235h-3.235zM9.705 58.23h3.235v3.235h-3.235zM22.645 58.23h3.235v3.235h-3.235zM51.76 58.23h3.235v3.235h-3.235zM54.995 58.23h3.235v3.235h-3.235zM32.35 61.465h3.235v3.235h-3.235zM48.525 61.465h3.235v3.235h-3.235zM22.645 64.7h3.235v3.235h-3.235zM35.585 64.7h3.235v3.235h-3.235zM54.995 64.7h3.235v3.235h-3.235zM87.345 64.7h3.235v3.235h-3.235zM35.585 67.935h3.235v3.235h-3.235zM38.82 67.935h3.235v3.235h-3.235zM42.055 67.935h3.235v3.235h-3.235zM48.525 67.935h3.235v3.235h-3.235zM61.465 67.935h3.235v3.235h-3.235zM3.235 71.17h3.235v3.235h-3.235zM35.585 71.17h3.235v3.235h-3.235zM42.055 71.17h3.235v3.235h-3.235zM54.995 71.17h3.235v3.235h-3.235zM58.23 71.17h3.235v3.235h-3.235zM16.175 74.405h3.235v3.235h-3.235zM32.35 74.405h3.235v3.235h-3.235zM64.7 74.405h3.235v3.235h-3.235zM71.17 74.405h3.235v3.235h-3.235zM29.115 77.64h3.235v3.235h-3.235zM35.585 77.64h3.235v3.235h-3.235zM38.82 77.64h3.235v3.235h-3.235zM58.23 77.64h3.235v3.235h-3.235zM61.465 77.64h3.235v3.235h-3.235zM29.115 80.875h3.235v3.235h-3.235zM32.35 80.875h3.235v3.235h-3.235zM35.585 80.875h3.235v3.235h-3.235zM51.76 80.875h3.235v3.235h-3.235zM54.995 80.875h3.235v3.235h-3.235zM29.115 84.11h3.235v3.235h-3.235zM45.29 84.11h3.235v3.235h-3.235zM51.76 84.11h3.235v3.235h-3.235zM61.465 84.11h3.235v3.235h-3.235zM25.88 87.345h3.235v3.235h-3.235zM16.175 93.815h3.235v3.235h-3.235zM42.055 93.815h3.235v3.235h-3.235zM54.995 93.815h3.235v3.235h-3.235zM58.23 93.815h3.235v3.235h-3.235zM19.41 97.05h3.235v3.235h-3.235zM42.055 97.05h3.235v3.235h-3.235zM45.29 97.05h3.235v3.235h-3.235zM58.23 97.05h3.235v3.235h-3.235zM38.82 100.285h3.235v3.235h-3.235zM35.585 103.52h3.235v3.235h-3.235zM84.11 109.99h3.235v3.235h-3.235zM74.405 119.695h3.235v3.235h-3.235zM61.465 129.4h3.235v3.235h-3.235zM45.29 132.635h3.235v3.235h-3.235z" fill="#7ab3a6" stroke="#6691a0" stroke-width="1.05"/>
<path d="M38.82 35.585h3.235v3.235h-3.235zM38.82 38.82h3.235v3.235h-3.235zM42.055 38.82h3.235v3.235h-3.235zM48.525 38.82h3.235v3.235h-3.235zM61.465 42.055h3.235v3.235h-3.235zM67.935 42.055h3.235v3.235h-3.235zM42.055 45.29h3.235v3.235h-3.235zM61.465 45.29h3.235v3.235h-3.235zM64.7 45.29h3.235v3.235h-3.235zM32.35 48.525h3.235v3.235h-3.235zM35.585 48.525h3.235v3.235h-3.235zM38.82 48.525h3.235v3.235h-3.235zM48.525 48.525h3.235v3.235h-3.235zM51.76 48.525h3.235v3.235h-3.235zM87.345 48.525h3.235v3.235h-3.235zM38.82 51.76h3.235v3.235h-3.235zM42.055 51.76h3.235v3.235h-3.235zM67.935 51.76h3.235v3.235h-3.235zM38.82 54.995h3.235v3.235h-3.235zM42.055 54.995h3.235v3.235h-3.235zM51.76 54.995h3.235v3.235h-3.235zM42.055 58.23h3.235v3.235h-3.235zM48.525 58.23h3.235v3.235h-3.235zM38.82 61.465h3.235v3.235h-3.235zM45.29 61.465h3.235v3.235h-3.235zM29.115 64.7h3.235v3.235h-3.235zM32.35 64.7h3.235v3.235h-3.235zM51.76 64.7h3.235v3.235h-3.235zM93.815 64.7h3.235v3.235h-3.235zM29.115 67.935h3.235v3.235h-3.235zM51.76 67.935h3.235v3.235h-3.235zM29.115 71.17h3.235v3.235h-3.235zM38.82 71.17h3.235v3.235h-3.235zM45.29 71.17h3.235v3.235h-3.235zM51.76 71.17h3.235v3.235h-3.235zM35.585 74.405h3.235v3.235h-3.235zM38.82 74.405h3.235v3.235h-3.235zM42.055 74.405h3.235v3.235h-3.235zM45.29 74.405h3.235v3.235h-3.235zM42.055 77.64h3.235v3.235h-3.235zM48.525 77.64h3.235v3.235h-3.235zM48.525 80.875h3.235v3.235h-3.235zM38.82 84.11h3.235v3.235h-3.235zM48.525 97.05h3.235v3.235h-3.235zM32.35 106.755h3.235v3.235h-3.235zM51.76 106.755h3.235v3.235h-3.235zM54.995 106.755h3.235v3.235h-3.235zM54.995 113.225h3.235v3.235h-3.235z" fill="#f1e07f" stroke="#8d917c" stroke-width="0.85"/>
<path d="M32.35 51.76h3.235v3.235h-3.235zM45.29 51.76h3.235v3.235h-3.235zM48.525 51.76h3.235v3.235h-3.235zM35.585 54.995h3.235v3.235h-3.235zM48.525 54.995h3.235v3.235h-3.235z" fill="#f6a354" stroke="#92866e" stroke-width="0.85"/>
<path d="M45.29 54.995h3.235v3.235h-3.235zM51.76 77.64h3.235v3.235h-3.235z" fill="#d5412a" stroke="#c4472e" stroke-width="0.6"/>
</g>
<g transform="translate(792.4 19.4)" filter="url(#bt)">
<use href="#arw" y="0"/>
<text class="n" x="6.2" y="6.6" text-anchor="middle">N</text>
<use href="#sbar" y="0"/>
<text class="s" x="-1.6" y="51.5">0</text><text class="s" x="24.2" y="51.5" textLength="20.6" lengthAdjust="spacing">4 km</text>
<text class="v" x="-0.2" y="81">Values</text>
<rect x="0.3" y="86.9" width="16" height="8" fill="#2f8bc4" stroke="#7c7c6c" stroke-width="0.7"/>
<text class="l" x="18.1" y="94.8">0</text>
<rect x="0.3" y="97.8" width="16" height="8" fill="#6cb8ad" stroke="#7c7c6c" stroke-width="0.7"/>
<text class="l" x="18.1" y="105.7">1</text>
<rect x="0.3" y="108.7" width="16" height="8" fill="#f0e57c" stroke="#7c7c6c" stroke-width="0.7"/>
<text class="l" x="18.1" y="116.6">2 - 4</text>
<rect x="0.3" y="119.6" width="16" height="8" fill="#fda650" stroke="#7c7c6c" stroke-width="0.7"/>
<text class="l" x="18.1" y="127.5">5 - 7</text>
<rect x="0.3" y="130.5" width="16" height="8" fill="#f0361c" stroke="#7c7c6c" stroke-width="0.7"/>
<text class="l" x="18.1" y="138.4">8 - 13</text>
</g>
<text class="c" filter="url(#bt)" x="723.8" y="185.2" textLength="54.6" lengthAdjust="spacing">(d) Rape</text>
<!-- panel e -->
<g transform="translate(4.6 229)" filter="url(#bm)">
<use href="#base"/>
<path d="M58.23 19.41h3.235v3.235h-3.235zM48.525 29.115h3.235v3.235h-3.235zM64.7 42.055h3.235v3.235h-3.235zM74.405 42.055h3.235v3.235h-3.235zM61.465 45.29h3.235v3.235h-3.235zM67.935 45.29h3.235v3.235h-3.235zM35.585 48.525h3.235v3.235h-3.235zM54.995 48.525h3.235v3.235h-3.235zM35.585 54.995h3.235v3.235h-3.235zM32.35 58.23h3.235v3.235h-3.235zM38.82 58.23h3.235v3.235h-3.235zM42.055 58.23h3.235v3.235h-3.235zM45.29 58.23h3.235v3.235h-3.235zM51.76 64.7h3.235v3.235h-3.235zM45.29 67.935h3.235v3.235h-3.235zM35.585 71.17h3.235v3.235h-3.235zM48.525 71.17h3.235v3.235h-3.235zM32.35 74.405h3.235v3.235h-3.235zM48.525 74.405h3.235v3.235h-3.235zM61.465 74.405h3.235v3.235h-3.235zM90.58 84.11h3.235v3.235h-3.235zM51.76 93.815h3.235v3.235h-3.235zM38.82 103.52h3.235v3.235h-3.235zM93.815 106.755h3.235v3.235h-3.235zM9.705 113.225h3.235v3.235h-3.235zM51.76 113.225h3.235v3.235h-3.235z" fill="#7ab3a6" stroke="#6691a0" stroke-width="1.05"/>
<path d="M48.525 51.76h3.235v3.235h-3.235zM51.76 54.995h3.235v3.235h-3.235zM51.76 58.23h3.235v3.235h-3.235zM48.525 67.935h3.235v3.235h-3.235z" fill="#f1e07f" stroke="#8d917c" stroke-width="0.85"/>
<path d="M45.29 54.995h3.235v3.235h-3.235z" fill="#f6a354" stroke="#92866e" stroke-width="0.85"/>
<path d="M48.525 54.995h3.235v3.235h-3.235z" fill="#d5412a" stroke="#c4472e" stroke-width="0.6"/>
</g>
<g transform="translate(124.2 229)" filter="url(#bt)">
<use href="#arw" y="0"/>
<text class="n" x="6.2" y="6.6" text-anchor="middle">N</text>
<use href="#sbar" y="0"/>
<text class="s" x="-1.6" y="51.5">0</text><text class="s" x="24.2" y="51.5" textLength="20.6" lengthAdjust="spacing">4 km</text>
<text class="v" x="-0.2" y="81">Values</text>
<rect x="0.3" y="86.9" width="16" height="8" fill="#2f8bc4" stroke="#7c7c6c" stroke-width="0.7"/>
<text class="l" x="18.1" y="94.8">0</text>
<rect x="0.3" y="97.8" width="16" height="8" fill="#6cb8ad" stroke="#7c7c6c" stroke-width="0.7"/>
<text class="l" x="18.1" y="105.7">1</text>
<rect x="0.3" y="108.7" width="16" height="8" fill="#f0e57c" stroke="#7c7c6c" stroke-width="0.7"/>
<text class="l" x="18.1" y="116.6">2</text>
<rect x="0.3" y="119.6" width="16" height="8" fill="#fda650" stroke="#7c7c6c" stroke-width="0.7"/>
<text class="l" x="18.1" y="127.5">3</text>
<rect x="0.3" y="130.5" width="16" height="8" fill="#f0361c" stroke="#7c7c6c" stroke-width="0.7"/>
<text class="l" x="18.1" y="138.4">4</text>
</g>
<text class="c" filter="url(#bt)" x="50" y="396" textLength="76" lengthAdjust="spacing">(e) Robbery</text>
<!-- panel f -->
<g transform="translate(222.5 231)" filter="url(#bm)">
<use href="#base"/>
<path d="M42.055 9.705h3.235v3.235h-3.235zM42.055 12.94h3.235v3.235h-3.235zM42.055 16.175h3.235v3.235h-3.235zM45.29 16.175h3.235v3.235h-3.235zM54.995 16.175h3.235v3.235h-3.235zM35.585 19.41h3.235v3.235h-3.235zM35.585 22.645h3.235v3.235h-3.235zM35.585 29.115h3.235v3.235h-3.235zM42.055 29.115h3.235v3.235h-3.235zM51.76 29.115h3.235v3.235h-3.235zM35.585 32.35h3.235v3.235h-3.235zM48.525 32.35h3.235v3.235h-3.235zM51.76 32.35h3.235v3.235h-3.235zM32.35 35.585h3.235v3.235h-3.235zM35.585 35.585h3.235v3.235h-3.235zM51.76 35.585h3.235v3.235h-3.235zM61.465 35.585h3.235v3.235h-3.235zM25.88 38.82h3.235v3.235h-3.235zM42.055 38.82h3.235v3.235h-3.235zM48.525 38.82h3.235v3.235h-3.235zM61.465 38.82h3.235v3.235h-3.235zM35.585 42.055h3.235v3.235h-3.235zM45.29 42.055h3.235v3.235h-3.235zM54.995 42.055h3.235v3.235h-3.235zM58.23 42.055h3.235v3.235h-3.235zM61.465 42.055h3.235v3.235h-3.235zM80.875 42.055h3.235v3.235h-3.235zM90.58 42.055h3.235v3.235h-3.235zM29.115 45.29h3.235v3.235h-3.235zM35.585 45.29h3.235v3.235h-3.235zM45.29 45.29h3.235v3.235h-3.235zM54.995 45.29h3.235v3.235h-3.235zM58.23 45.29h3.235v3.235h-3.235zM61.465 45.29h3.235v3.235h-3.235zM64.7 45.29h3.235v3.235h-3.235zM77.64 45.29h3.235v3.235h-3.235zM90.58 45.29h3.235v3.235h-3.235zM22.645 48.525h3.235v3.235h-3.235zM29.115 48.525h3.235v3.235h-3.235zM35.585 48.525h3.235v3.235h-3.235zM51.76 48.525h3.235v3.235h-3.235zM54.995 48.525h3.235v3.235h-3.235zM58.23 48.525h3.235v3.235h-3.235zM61.465 48.525h3.235v3.235h-3.235zM67.935 48.525h3.235v3.235h-3.235zM22.645 51.76h3.235v3.235h-3.235zM35.585 51.76h3.235v3.235h-3.235zM38.82 51.76h3.235v3.235h-3.235zM51.76 51.76h3.235v3.235h-3.235zM64.7 51.76h3.235v3.235h-3.235zM67.935 51.76h3.235v3.235h-3.235zM35.585 54.995h3.235v3.235h-3.235zM54.995 54.995h3.235v3.235h-3.235zM64.7 54.995h3.235v3.235h-3.235zM25.88 58.23h3.235v3.235h-3.235zM42.055 58.23h3.235v3.235h-3.235zM45.29 58.23h3.235v3.235h-3.235zM48.525 58.23h3.235v3.235h-3.235zM51.76 58.23h3.235v3.235h-3.235zM54.995 58.23h3.235v3.235h-3.235zM58.23 58.23h3.235v3.235h-3.235zM64.7 58.23h3.235v3.235h-3.235zM32.35 61.465h3.235v3.235h-3.235zM35.585 61.465h3.235v3.235h-3.235zM42.055 61.465h3.235v3.235h-3.235zM45.29 61.465h3.235v3.235h-3.235zM48.525 61.465h3.235v3.235h-3.235zM51.76 61.465h3.235v3.235h-3.235zM54.995 61.465h3.235v3.235h-3.235zM58.23 61.465h3.235v3.235h-3.235zM61.465 61.465h3.235v3.235h-3.235zM64.7 61.465h3.235v3.235h-3.235zM25.88 64.7h3.235v3.235h-3.235zM38.82 64.7h3.235v3.235h-3.235zM45.29 64.7h3.235v3.235h-3.235zM48.525 64.7h3.235v3.235h-3.235zM51.76 64.7h3.235v3.235h-3.235zM61.465 64.7h3.235v3.235h-3.235zM32.35 67.935h3.235v3.235h-3.235zM45.29 67.935h3.235v3.235h-3.235zM48.525 67.935h3.235v3.235h-3.235zM51.76 67.935h3.235v3.235h-3.235zM32.35 71.17h3.235v3.235h-3.235zM35.585 71.17h3.235v3.235h-3.235zM38.82 71.17h3.235v3.235h-3.235zM42.055 71.17h3.235v3.235h-3.235zM45.29 71.17h3.235v3.235h-3.235zM51.76 71.17h3.235v3.235h-3.235zM54.995 71.17h3.235v3.235h-3.235zM16.175 74.405h3.235v3.235h-3.235zM25.88 74.405h3.235v3.235h-3.235zM32.35 74.405h3.235v3.235h-3.235zM35.585 74.405h3.235v3.235h-3.235zM38.82 74.405h3.235v3.235h-3.235zM42.055 74.405h3.235v3.235h-3.235zM45.29 74.405h3.235v3.235h-3.235zM48.525 74.405h3.235v3.235h-3.235zM51.76 74.405h3.235v3.235h-3.235zM54.995 74.405h3.235v3.235h-3.235zM58.23 74.405h3.235v3.235h-3.235zM61.465 74.405h3.235v3.235h-3.235zM3.235 77.64h3.235v3.235h-3.235zM16.175 77.64h3.235v3.235h-3.235zM38.82 77.64h3.235v3.235h-3.235zM42.055 77.64h3.235v3.235h-3.235zM45.29 77.64h3.235v3.235h-3.235zM48.525 77.64h3.235v3.235h-3.235zM51.76 77.64h3.235v3.235h-3.235zM54.995 77.64h3.235v3.235h-3.235zM58.23 77.64h3.235v3.235h-3.235zM45.29 80.875h3.235v3.235h-3.235zM51.76 80.875h3.235v3.235h-3.235zM35.585 84.11h3.235v3.235h-3.235zM38.82 84.11h3.235v3.235h-3.235zM48.525 84.11h3.235v3.235h-3.235zM48.525 87.345h3.235v3.235h-3.235zM51.76 93.815h3.235v3.235h-3.235zM54.995 93.815h3.235v3.235h-3.235zM48.525 97.05h3.235v3.235h-3.235zM51.76 97.05h3.235v3.235h-3.235zM38.82 103.52h3.235v3.235h-3.235zM38.82 106.755h3.235v3.235h-3.235zM58.23 109.99h3.235v3.235h-3.235zM51.76 113.225h3.235v3.235h-3.235zM54.995 113.225h3.235v3.235h-3.235zM38.82 116.46h3.235v3.235h-3.235z" fill="#7ab3a6" stroke="#6691a0" stroke-width="1.05"/>
<path d="M25.88 16.175h3.235v3.235h-3.235zM29.115 16.175h3.235v3.235h-3.235zM32.35 16.175h3.235v3.235h-3.235zM54.995 19.41h3.235v3.235h-3.235zM38.82 35.585h3.235v3.235h-3.235zM38.82 38.82h3.235v3.235h-3.235zM64.7 48.525h3.235v3.235h-3.235zM45.29 51.76h3.235v3.235h-3.235zM48.525 51.76h3.235v3.235h-3.235zM42.055 54.995h3.235v3.235h-3.235zM51.76 54.995h3.235v3.235h-3.235zM38.82 61.465h3.235v3.235h-3.235z" fill="#f1e07f" stroke="#8d917c" stroke-width="0.85"/>
<path d="M38.82 12.94h3.235v3.235h-3.235zM35.585 16.175h3.235v3.235h-3.235zM38.82 16.175h3.235v3.235h-3.235zM48.525 54.995h3.235v3.235h-3.235zM38.82 58.23h3.235v3.235h-3.235zM42.055 84.11h3.235v3.235h-3.235z" fill="#f6a354" stroke="#92866e" stroke-width="0.85"/>
<path d="M42.055 48.525h3.235v3.235h-3.235zM45.29 48.525h3.235v3.235h-3.235zM45.29 54.995h3.235v3.235h-3.235z" fill="#d5412a" stroke="#c4472e" stroke-width="0.6"/>
</g>
<g transform="translate(340.2 231)" filter="url(#bt)">
<use href="#arw" y="3.2"/>
<text class="n" x="6.2" y="9.8" text-anchor="middle">N</text>
<use href="#sbar" y="1.2"/>
<text class="s" x="-1.6" y="52.7">0</text><text class="s" x="24.2" y="52.7" textLength="20.6" lengthAdjust="spacing">4 km</text>
<text class="v" x="-0.2" y="81.8">Values</text>
<rect x="0.3" y="86.9" width="16" height="8" fill="#2f8bc4" stroke="#7c7c6c" stroke-width="0.7"/>
<text class="l" x="17.2" y="94.8" style="word-spacing:-0.6px">0 - 1</text>
<rect x="0.3" y="97.8" width="16" height="8" fill="#6cb8ad" stroke="#7c7c6c" stroke-width="0.7"/>
<text class="l" x="17.2" y="105.7" style="word-spacing:-0.6px">2 - 7</text>
<rect x="0.3" y="108.7" width="16" height="8" fill="#f0e57c" stroke="#7c7c6c" stroke-width="0.7"/>
<text class="l" x="17.2" y="116.6" style="word-spacing:-0.6px">8 - 16</text>
<rect x="0.3" y="119.6" width="16" height="8" fill="#fda650" stroke="#7c7c6c" stroke-width="0.7"/>
<text class="l" x="17.2" y="127.5" style="word-spacing:-0.6px">17 - 27</text>
<rect x="0.3" y="130.5" width="16" height="8" fill="#f0361c" stroke="#7c7c6c" stroke-width="0.7"/>
<text class="l" x="17.2" y="138.4" style="word-spacing:-0.6px">28 - 34</text>
</g>
<text class="c" filter="url(#bt)" x="233.3" y="396" textLength="144.8" lengthAdjust="spacing">(f) Drug-related Crime</text>
<!-- panel g -->
<g transform="translate(448.9 229)" filter="url(#bm)">
<use href="#base"/>
<path d="M32.35 16.175h3.235v3.235h-3.235zM32.35 25.88h3.235v3.235h-3.235zM45.29 25.88h3.235v3.235h-3.235zM35.585 32.35h3.235v3.235h-3.235zM38.82 32.35h3.235v3.235h-3.235zM22.645 35.585h3.235v3.235h-3.235zM29.115 35.585h3.235v3.235h-3.235zM35.585 35.585h3.235v3.235h-3.235zM38.82 35.585h3.235v3.235h-3.235zM67.935 35.585h3.235v3.235h-3.235zM22.645 38.82h3.235v3.235h-3.235zM25.88 38.82h3.235v3.235h-3.235zM35.585 38.82h3.235v3.235h-3.235zM61.465 38.82h3.235v3.235h-3.235zM67.935 38.82h3.235v3.235h-3.235zM74.405 38.82h3.235v3.235h-3.235zM22.645 42.055h3.235v3.235h-3.235zM25.88 42.055h3.235v3.235h-3.235zM35.585 42.055h3.235v3.235h-3.235zM67.935 42.055h3.235v3.235h-3.235zM71.17 42.055h3.235v3.235h-3.235zM19.41 45.29h3.235v3.235h-3.235zM54.995 45.29h3.235v3.235h-3.235zM87.345 45.29h3.235v3.235h-3.235zM22.645 48.525h3.235v3.235h-3.235zM29.115 48.525h3.235v3.235h-3.235zM35.585 48.525h3.235v3.235h-3.235zM51.76 48.525h3.235v3.235h-3.235zM54.995 48.525h3.235v3.235h-3.235zM58.23 48.525h3.235v3.235h-3.235zM29.115 51.76h3.235v3.235h-3.235zM51.76 51.76h3.235v3.235h-3.235zM54.995 51.76h3.235v3.235h-3.235zM58.23 51.76h3.235v3.235h-3.235zM61.465 51.76h3.235v3.235h-3.235zM64.7 51.76h3.235v3.235h-3.235zM74.405 51.76h3.235v3.235h-3.235zM25.88 54.995h3.235v3.235h-3.235zM35.585 54.995h3.235v3.235h-3.235zM38.82 54.995h3.235v3.235h-3.235zM48.525 54.995h3.235v3.235h-3.235zM54.995 54.995h3.235v3.235h-3.235zM58.23 54.995h3.235v3.235h-3.235zM61.465 54.995h3.235v3.235h-3.235zM32.35 58.23h3.235v3.235h-3.235zM42.055 58.23h3.235v3.235h-3.235zM54.995 58.23h3.235v3.235h-3.235zM61.465 58.23h3.235v3.235h-3.235zM84.11 58.23h3.235v3.235h-3.235zM45.29 61.465h3.235v3.235h-3.235zM48.525 61.465h3.235v3.235h-3.235zM54.995 61.465h3.235v3.235h-3.235zM84.11 61.465h3.235v3.235h-3.235zM29.115 64.7h3.235v3.235h-3.235zM42.055 64.7h3.235v3.235h-3.235zM45.29 64.7h3.235v3.235h-3.235zM48.525 64.7h3.235v3.235h-3.235zM54.995 64.7h3.235v3.235h-3.235zM58.23 64.7h3.235v3.235h-3.235zM61.465 64.7h3.235v3.235h-3.235zM19.41 67.935h3.235v3.235h-3.235zM29.115 67.935h3.235v3.235h-3.235zM32.35 67.935h3.235v3.235h-3.235zM38.82 67.935h3.235v3.235h-3.235zM48.525 67.935h3.235v3.235h-3.235zM51.76 67.935h3.235v3.235h-3.235zM54.995 67.935h3.235v3.235h-3.235zM58.23 67.935h3.235v3.235h-3.235zM67.935 67.935h3.235v3.235h-3.235zM74.405 67.935h3.235v3.235h-3.235zM77.64 67.935h3.235v3.235h-3.235zM35.585 71.17h3.235v3.235h-3.235zM38.82 71.17h3.235v3.235h-3.235zM42.055 71.17h3.235v3.235h-3.235zM48.525 71.17h3.235v3.235h-3.235zM51.76 71.17h3.235v3.235h-3.235zM54.995 71.17h3.235v3.235h-3.235zM58.23 71.17h3.235v3.235h-3.235zM67.935 71.17h3.235v3.235h-3.235zM71.17 71.17h3.235v3.235h-3.235zM6.47 74.405h3.235v3.235h-3.235zM35.585 74.405h3.235v3.235h-3.235zM51.76 74.405h3.235v3.235h-3.235zM54.995 74.405h3.235v3.235h-3.235zM58.23 74.405h3.235v3.235h-3.235zM87.345 74.405h3.235v3.235h-3.235zM12.94 77.64h3.235v3.235h-3.235zM35.585 77.64h3.235v3.235h-3.235zM45.29 77.64h3.235v3.235h-3.235zM48.525 77.64h3.235v3.235h-3.235zM84.11 77.64h3.235v3.235h-3.235zM87.345 77.64h3.235v3.235h-3.235zM9.705 80.875h3.235v3.235h-3.235zM32.35 80.875h3.235v3.235h-3.235zM45.29 80.875h3.235v3.235h-3.235zM48.525 80.875h3.235v3.235h-3.235zM58.23 80.875h3.235v3.235h-3.235zM61.465 80.875h3.235v3.235h-3.235zM64.7 80.875h3.235v3.235h-3.235zM71.17 80.875h3.235v3.235h-3.235zM80.875 80.875h3.235v3.235h-3.235zM35.585 84.11h3.235v3.235h-3.235zM48.525 84.11h3.235v3.235h-3.235zM51.76 84.11h3.235v3.235h-3.235zM61.465 84.11h3.235v3.235h-3.235zM84.11 84.11h3.235v3.235h-3.235zM42.055 87.345h3.235v3.235h-3.235zM51.76 87.345h3.235v3.235h-3.235zM87.345 87.345h3.235v3.235h-3.235zM35.585 90.58h3.235v3.235h-3.235zM71.17 90.58h3.235v3.235h-3.235zM58.23 93.815h3.235v3.235h-3.235zM71.17 93.815h3.235v3.235h-3.235zM45.29 97.05h3.235v3.235h-3.235zM48.525 97.05h3.235v3.235h-3.235zM35.585 100.285h3.235v3.235h-3.235zM9.705 103.52h3.235v3.235h-3.235zM38.82 103.52h3.235v3.235h-3.235zM9.705 106.755h3.235v3.235h-3.235zM29.115 106.755h3.235v3.235h-3.235zM54.995 106.755h3.235v3.235h-3.235zM58.23 106.755h3.235v3.235h-3.235zM12.94 109.99h3.235v3.235h-3.235zM29.115 109.99h3.235v3.235h-3.235zM32.35 109.99h3.235v3.235h-3.235zM54.995 109.99h3.235v3.235h-3.235zM61.465 109.99h3.235v3.235h-3.235zM58.23 113.225h3.235v3.235h-3.235zM48.525 122.93h3.235v3.235h-3.235zM42.055 129.4h3.235v3.235h-3.235zM54.995 129.4h3.235v3.235h-3.235z" fill="#7ab3a6" stroke="#6691a0" stroke-width="1.05"/>
<path d="M51.76 29.115h3.235v3.235h-3.235zM38.82 48.525h3.235v3.235h-3.235zM42.055 48.525h3.235v3.235h-3.235zM45.29 54.995h3.235v3.235h-3.235zM35.585 58.23h3.235v3.235h-3.235zM45.29 58.23h3.235v3.235h-3.235zM48.525 58.23h3.235v3.235h-3.235zM64.7 61.465h3.235v3.235h-3.235zM22.645 64.7h3.235v3.235h-3.235zM51.76 64.7h3.235v3.235h-3.235zM42.055 67.935h3.235v3.235h-3.235zM45.29 67.935h3.235v3.235h-3.235zM29.115 71.17h3.235v3.235h-3.235zM64.7 71.17h3.235v3.235h-3.235zM42.055 74.405h3.235v3.235h-3.235zM45.29 74.405h3.235v3.235h-3.235zM51.76 77.64h3.235v3.235h-3.235zM58.23 77.64h3.235v3.235h-3.235zM64.7 77.64h3.235v3.235h-3.235zM29.115 80.875h3.235v3.235h-3.235zM51.76 80.875h3.235v3.235h-3.235zM87.345 90.58h3.235v3.235h-3.235zM58.23 109.99h3.235v3.235h-3.235zM71.17 116.46h3.235v3.235h-3.235zM51.76 122.93h3.235v3.235h-3.235z" fill="#f1e07f" stroke="#8d917c" stroke-width="0.85"/>
<path d="M38.82 38.82h3.235v3.235h-3.235zM45.29 48.525h3.235v3.235h-3.235zM45.29 51.76h3.235v3.235h-3.235zM42.055 54.995h3.235v3.235h-3.235zM35.585 61.465h3.235v3.235h-3.235zM25.88 116.46h3.235v3.235h-3.235z" fill="#f6a354" stroke="#92866e" stroke-width="0.85"/>
<path d="M38.82 58.23h3.235v3.235h-3.235zM38.82 61.465h3.235v3.235h-3.235z" fill="#d5412a" stroke="#c4472e" stroke-width="0.6"/>
</g>
<g transform="translate(568.5 229)" filter="url(#bt)">
<use href="#arw" y="0"/>
<text class="n" x="6.2" y="6.6" text-anchor="middle">N</text>
<use href="#sbar" y="0"/>
<text class="s" x="-1.6" y="51.5">0</text><text class="s" x="24.2" y="51.5" textLength="20.6" lengthAdjust="spacing">4 km</text>
<text class="v" x="-0.2" y="81">Values</text>
<rect x="0.3" y="86.9" width="16" height="8" fill="#2f8bc4" stroke="#7c7c6c" stroke-width="0.7"/>
<text class="l" x="18.1" y="94.8">0</text>
<rect x="0.3" y="97.8" width="16" height="8" fill="#6cb8ad" stroke="#7c7c6c" stroke-width="0.7"/>
<text class="l" x="18.1" y="105.7">1 - 2</text>
<rect x="0.3" y="108.7" width="16" height="8" fill="#f0e57c" stroke="#7c7c6c" stroke-width="0.7"/>
<text class="l" x="18.1" y="116.6">3 - 5</text>
<rect x="0.3" y="119.6" width="16" height="8" fill="#fda650" stroke="#7c7c6c" stroke-width="0.7"/>
<text class="l" x="18.1" y="127.5">6 - 9</text>
<rect x="0.3" y="130.5" width="16" height="8" fill="#f0361c" stroke="#7c7c6c" stroke-width="0.7"/>
<text class="l" x="18.1" y="138.4">10 - 31</text>
</g>
<text class="c" filter="url(#bt)" x="443" y="396" textLength="178.8" lengthAdjust="spacing">(g) Gambling-related Crime</text>
<!-- panel h -->
<g transform="translate(672.4 229)" filter="url(#bm)">
<use href="#base"/>
<path d="M64.7 45.29h3.235v3.235h-3.235zM93.815 45.29h3.235v3.235h-3.235zM35.585 48.525h3.235v3.235h-3.235zM51.76 48.525h3.235v3.235h-3.235zM67.935 51.76h3.235v3.235h-3.235zM25.88 54.995h3.235v3.235h-3.235zM38.82 54.995h3.235v3.235h-3.235zM42.055 54.995h3.235v3.235h-3.235zM45.29 54.995h3.235v3.235h-3.235zM51.76 54.995h3.235v3.235h-3.235zM54.995 54.995h3.235v3.235h-3.235zM58.23 54.995h3.235v3.235h-3.235zM51.76 58.23h3.235v3.235h-3.235zM25.88 61.465h3.235v3.235h-3.235zM35.585 61.465h3.235v3.235h-3.235zM42.055 61.465h3.235v3.235h-3.235zM51.76 61.465h3.235v3.235h-3.235zM54.995 61.465h3.235v3.235h-3.235zM51.76 64.7h3.235v3.235h-3.235zM54.995 64.7h3.235v3.235h-3.235zM35.585 67.935h3.235v3.235h-3.235zM54.995 67.935h3.235v3.235h-3.235zM38.82 71.17h3.235v3.235h-3.235zM61.465 71.17h3.235v3.235h-3.235zM48.525 77.64h3.235v3.235h-3.235zM51.76 80.875h3.235v3.235h-3.235zM71.17 90.58h3.235v3.235h-3.235zM16.175 100.285h3.235v3.235h-3.235zM32.35 103.52h3.235v3.235h-3.235zM38.82 103.52h3.235v3.235h-3.235zM61.465 113.225h3.235v3.235h-3.235z" fill="#7ab3a6" stroke="#6691a0" stroke-width="1.05"/>
<path d="M64.7 42.055h3.235v3.235h-3.235zM42.055 48.525h3.235v3.235h-3.235zM48.525 51.76h3.235v3.235h-3.235zM48.525 54.995h3.235v3.235h-3.235zM38.82 61.465h3.235v3.235h-3.235zM45.29 61.465h3.235v3.235h-3.235zM42.055 67.935h3.235v3.235h-3.235zM51.76 77.64h3.235v3.235h-3.235zM12.94 103.52h3.235v3.235h-3.235zM58.23 109.99h3.235v3.235h-3.235z" fill="#f1e07f" stroke="#8d917c" stroke-width="0.85"/>
<path d="M45.29 48.525h3.235v3.235h-3.235zM45.29 51.76h3.235v3.235h-3.235zM54.995 51.76h3.235v3.235h-3.235zM61.465 74.405h3.235v3.235h-3.235z" fill="#f6a354" stroke="#92866e" stroke-width="0.85"/>
<path d="M38.82 58.23h3.235v3.235h-3.235z" fill="#d5412a" stroke="#c4472e" stroke-width="0.6"/>
</g>
<g transform="translate(791.7 229)" filter="url(#bt)">
<use href="#arw" y="0"/>
<text class="n" x="6.2" y="6.6" text-anchor="middle">N</text>
<use href="#sbar" y="0"/>
<text class="s" x="-1.6" y="51.5">0</text><text class="s" x="24.2" y="51.5" textLength="20.6" lengthAdjust="spacing">4 km</text>
<text class="v" x="-0.2" y="81">Values</text>
<rect x="0.3" y="86.9" width="16" height="8" fill="#2f8bc4" stroke="#7c7c6c" stroke-width="0.7"/>
<text class="l" x="18.1" y="94.8">0</text>
<rect x="0.3" y="97.8" width="16" height="8" fill="#6cb8ad" stroke="#7c7c6c" stroke-width="0.7"/>
<text class="l" x="18.1" y="105.7">1</text>
<rect x="0.3" y="108.7" width="16" height="8" fill="#f0e57c" stroke="#7c7c6c" stroke-width="0.7"/>
<text class="l" x="18.1" y="116.6">2 - 4</text>
<rect x="0.3" y="119.6" width="16" height="8" fill="#fda650" stroke="#7c7c6c" stroke-width="0.7"/>
<text class="l" x="18.1" y="127.5">5 - 7</text>
<rect x="0.3" y="130.5" width="16" height="8" fill="#f0361c" stroke="#7c7c6c" stroke-width="0.7"/>
<text class="l" x="18.1" y="138.4">8 - 14</text>
</g>
<text class="c" filter="url(#bt)" x="657.8" y="396" textLength="197.8" lengthAdjust="spacing">(h) Pornography-related Crime</text>
<!-- panel i -->
<g transform="translate(4.6 440.4)" filter="url(#bm)">
<use href="#base"/>
<path d="M32.35 12.94h3.235v3.235h-3.235zM35.585 12.94h3.235v3.235h-3.235zM32.35 16.175h3.235v3.235h-3.235zM35.585 16.175h3.235v3.235h-3.235zM54.995 19.41h3.235v3.235h-3.235zM25.88 35.585h3.235v3.235h-3.235zM32.35 35.585h3.235v3.235h-3.235zM35.585 35.585h3.235v3.235h-3.235zM42.055 35.585h3.235v3.235h-3.235zM61.465 35.585h3.235v3.235h-3.235zM29.115 38.82h3.235v3.235h-3.235zM61.465 38.82h3.235v3.235h-3.235zM64.7 38.82h3.235v3.235h-3.235zM29.115 42.055h3.235v3.235h-3.235zM32.35 42.055h3.235v3.235h-3.235zM67.935 42.055h3.235v3.235h-3.235zM71.17 42.055h3.235v3.235h-3.235zM74.405 42.055h3.235v3.235h-3.235zM77.64 42.055h3.235v3.235h-3.235zM25.88 45.29h3.235v3.235h-3.235zM29.115 45.29h3.235v3.235h-3.235zM32.35 45.29h3.235v3.235h-3.235zM35.585 45.29h3.235v3.235h-3.235zM38.82 45.29h3.235v3.235h-3.235zM51.76 45.29h3.235v3.235h-3.235zM58.23 45.29h3.235v3.235h-3.235zM61.465 45.29h3.235v3.235h-3.235zM71.17 45.29h3.235v3.235h-3.235zM74.405 45.29h3.235v3.235h-3.235zM77.64 45.29h3.235v3.235h-3.235zM80.875 45.29h3.235v3.235h-3.235zM22.645 48.525h3.235v3.235h-3.235zM48.525 48.525h3.235v3.235h-3.235zM51.76 48.525h3.235v3.235h-3.235zM67.935 48.525h3.235v3.235h-3.235zM74.405 48.525h3.235v3.235h-3.235zM32.35 51.76h3.235v3.235h-3.235zM35.585 51.76h3.235v3.235h-3.235zM38.82 51.76h3.235v3.235h-3.235zM42.055 51.76h3.235v3.235h-3.235zM45.29 51.76h3.235v3.235h-3.235zM48.525 51.76h3.235v3.235h-3.235zM51.76 51.76h3.235v3.235h-3.235zM19.41 54.995h3.235v3.235h-3.235zM32.35 54.995h3.235v3.235h-3.235zM35.585 54.995h3.235v3.235h-3.235zM58.23 58.23h3.235v3.235h-3.235zM67.935 58.23h3.235v3.235h-3.235zM22.645 61.465h3.235v3.235h-3.235zM29.115 61.465h3.235v3.235h-3.235zM61.465 61.465h3.235v3.235h-3.235zM64.7 61.465h3.235v3.235h-3.235zM25.88 64.7h3.235v3.235h-3.235zM32.35 64.7h3.235v3.235h-3.235zM35.585 64.7h3.235v3.235h-3.235zM38.82 64.7h3.235v3.235h-3.235zM42.055 64.7h3.235v3.235h-3.235zM45.29 64.7h3.235v3.235h-3.235zM61.465 64.7h3.235v3.235h-3.235zM64.7 64.7h3.235v3.235h-3.235zM67.935 64.7h3.235v3.235h-3.235zM22.645 67.935h3.235v3.235h-3.235zM38.82 67.935h3.235v3.235h-3.235zM54.995 67.935h3.235v3.235h-3.235zM58.23 67.935h3.235v3.235h-3.235zM61.465 67.935h3.235v3.235h-3.235zM71.17 67.935h3.235v3.235h-3.235zM35.585 71.17h3.235v3.235h-3.235zM38.82 71.17h3.235v3.235h-3.235zM58.23 71.17h3.235v3.235h-3.235zM61.465 71.17h3.235v3.235h-3.235zM67.935 71.17h3.235v3.235h-3.235zM38.82 74.405h3.235v3.235h-3.235zM42.055 74.405h3.235v3.235h-3.235zM48.525 74.405h3.235v3.235h-3.235zM51.76 74.405h3.235v3.235h-3.235zM61.465 74.405h3.235v3.235h-3.235zM38.82 77.64h3.235v3.235h-3.235zM58.23 77.64h3.235v3.235h-3.235zM67.935 77.64h3.235v3.235h-3.235zM32.35 80.875h3.235v3.235h-3.235zM35.585 80.875h3.235v3.235h-3.235zM42.055 80.875h3.235v3.235h-3.235zM54.995 80.875h3.235v3.235h-3.235zM61.465 80.875h3.235v3.235h-3.235zM0 84.11h3.235v3.235h-3.235zM3.235 84.11h3.235v3.235h-3.235zM6.47 84.11h3.235v3.235h-3.235zM32.35 84.11h3.235v3.235h-3.235zM42.055 84.11h3.235v3.235h-3.235zM45.29 84.11h3.235v3.235h-3.235zM48.525 84.11h3.235v3.235h-3.235zM74.405 84.11h3.235v3.235h-3.235zM48.525 87.345h3.235v3.235h-3.235zM38.82 90.58h3.235v3.235h-3.235zM42.055 90.58h3.235v3.235h-3.235zM45.29 90.58h3.235v3.235h-3.235zM48.525 90.58h3.235v3.235h-3.235zM38.82 93.815h3.235v3.235h-3.235zM42.055 93.815h3.235v3.235h-3.235zM58.23 93.815h3.235v3.235h-3.235zM48.525 97.05h3.235v3.235h-3.235zM35.585 100.285h3.235v3.235h-3.235zM38.82 100.285h3.235v3.235h-3.235zM42.055 100.285h3.235v3.235h-3.235zM45.29 100.285h3.235v3.235h-3.235zM29.115 103.52h3.235v3.235h-3.235zM32.35 103.52h3.235v3.235h-3.235zM38.82 103.52h3.235v3.235h-3.235zM42.055 103.52h3.235v3.235h-3.235zM45.29 103.52h3.235v3.235h-3.235zM29.115 106.755h3.235v3.235h-3.235zM32.35 106.755h3.235v3.235h-3.235zM38.82 106.755h3.235v3.235h-3.235zM48.525 106.755h3.235v3.235h-3.235zM51.76 106.755h3.235v3.235h-3.235zM29.115 109.99h3.235v3.235h-3.235zM51.76 109.99h3.235v3.235h-3.235zM25.88 113.225h3.235v3.235h-3.235zM51.76 113.225h3.235v3.235h-3.235zM67.935 116.46h3.235v3.235h-3.235zM74.405 116.46h3.235v3.235h-3.235z" fill="#7ab3a6" stroke="#6691a0" stroke-width="1.05"/>
<path d="M32.35 32.35h3.235v3.235h-3.235zM38.82 35.585h3.235v3.235h-3.235zM35.585 38.82h3.235v3.235h-3.235zM38.82 38.82h3.235v3.235h-3.235zM25.88 42.055h3.235v3.235h-3.235zM35.585 42.055h3.235v3.235h-3.235zM45.29 42.055h3.235v3.235h-3.235zM64.7 42.055h3.235v3.235h-3.235zM42.055 45.29h3.235v3.235h-3.235zM45.29 45.29h3.235v3.235h-3.235zM67.935 45.29h3.235v3.235h-3.235zM29.115 48.525h3.235v3.235h-3.235zM38.82 48.525h3.235v3.235h-3.235zM45.29 48.525h3.235v3.235h-3.235zM54.995 48.525h3.235v3.235h-3.235zM64.7 48.525h3.235v3.235h-3.235zM22.645 51.76h3.235v3.235h-3.235zM25.88 51.76h3.235v3.235h-3.235zM29.115 51.76h3.235v3.235h-3.235zM22.645 54.995h3.235v3.235h-3.235zM25.88 54.995h3.235v3.235h-3.235zM29.115 54.995h3.235v3.235h-3.235zM38.82 54.995h3.235v3.235h-3.235zM38.82 58.23h3.235v3.235h-3.235zM61.465 58.23h3.235v3.235h-3.235zM35.585 61.465h3.235v3.235h-3.235zM38.82 61.465h3.235v3.235h-3.235zM42.055 61.465h3.235v3.235h-3.235zM54.995 61.465h3.235v3.235h-3.235zM58.23 61.465h3.235v3.235h-3.235zM67.935 61.465h3.235v3.235h-3.235zM29.115 64.7h3.235v3.235h-3.235zM58.23 64.7h3.235v3.235h-3.235zM32.35 67.935h3.235v3.235h-3.235zM51.76 67.935h3.235v3.235h-3.235zM29.115 71.17h3.235v3.235h-3.235zM32.35 71.17h3.235v3.235h-3.235zM45.29 74.405h3.235v3.235h-3.235zM58.23 74.405h3.235v3.235h-3.235zM45.29 77.64h3.235v3.235h-3.235zM48.525 77.64h3.235v3.235h-3.235zM54.995 77.64h3.235v3.235h-3.235zM64.7 77.64h3.235v3.235h-3.235zM48.525 80.875h3.235v3.235h-3.235zM51.76 80.875h3.235v3.235h-3.235zM35.585 90.58h3.235v3.235h-3.235zM35.585 93.815h3.235v3.235h-3.235zM48.525 93.815h3.235v3.235h-3.235zM54.995 93.815h3.235v3.235h-3.235zM9.705 103.52h3.235v3.235h-3.235zM35.585 103.52h3.235v3.235h-3.235zM54.995 106.755h3.235v3.235h-3.235zM58.23 106.755h3.235v3.235h-3.235zM58.23 109.99h3.235v3.235h-3.235zM25.88 116.46h3.235v3.235h-3.235zM71.17 116.46h3.235v3.235h-3.235z" fill="#f1e07f" stroke="#8d917c" stroke-width="0.85"/>
<path d="M29.115 35.585h3.235v3.235h-3.235zM64.7 45.29h3.235v3.235h-3.235zM32.35 48.525h3.235v3.235h-3.235zM35.585 48.525h3.235v3.235h-3.235zM42.055 48.525h3.235v3.235h-3.235zM54.995 51.76h3.235v3.235h-3.235zM42.055 54.995h3.235v3.235h-3.235zM51.76 54.995h3.235v3.235h-3.235zM54.995 54.995h3.235v3.235h-3.235zM42.055 58.23h3.235v3.235h-3.235zM45.29 58.23h3.235v3.235h-3.235zM48.525 58.23h3.235v3.235h-3.235zM51.76 58.23h3.235v3.235h-3.235zM54.995 58.23h3.235v3.235h-3.235zM45.29 61.465h3.235v3.235h-3.235zM48.525 61.465h3.235v3.235h-3.235zM51.76 61.465h3.235v3.235h-3.235zM48.525 64.7h3.235v3.235h-3.235zM51.76 64.7h3.235v3.235h-3.235zM54.995 64.7h3.235v3.235h-3.235zM16.175 67.935h3.235v3.235h-3.235zM35.585 67.935h3.235v3.235h-3.235zM45.29 67.935h3.235v3.235h-3.235zM48.525 67.935h3.235v3.235h-3.235zM51.76 71.17h3.235v3.235h-3.235zM32.35 74.405h3.235v3.235h-3.235zM54.995 74.405h3.235v3.235h-3.235zM32.35 77.64h3.235v3.235h-3.235z" fill="#f6a354" stroke="#92866e" stroke-width="0.85"/>
<path d="M45.29 54.995h3.235v3.235h-3.235zM48.525 54.995h3.235v3.235h-3.235zM51.76 77.64h3.235v3.235h-3.235z" fill="#d5412a" stroke="#c4472e" stroke-width="0.6"/>
</g>
<g transform="translate(124.2 440.4)" filter="url(#bt)">
<use href="#arw" y="0"/>
<text class="n" x="6.2" y="6.6" text-anchor="middle">N</text>
<use href="#sbar" y="0"/>
<text class="s" x="-1.6" y="51.5">0</text><text class="s" x="24.2" y="51.5" textLength="20.6" lengthAdjust="spacing">4 km</text>
<text class="v" x="-0.2" y="81">Values</text>
<rect x="0.3" y="86.9" width="16" height="8" fill="#2f8bc4" stroke="#7c7c6c" stroke-width="0.7"/>
<text class="l" x="18.1" y="94.8">0 - 28</text>
<rect x="0.3" y="97.8" width="16" height="8" fill="#6cb8ad" stroke="#7c7c6c" stroke-width="0.7"/>
<text class="l" x="18.1" y="105.7">29 - 104</text>
<rect x="0.3" y="108.7" width="16" height="8" fill="#f0e57c" stroke="#7c7c6c" stroke-width="0.7"/>
<text class="l" x="18.1" y="116.6">105 - 236</text>
<rect x="0.3" y="119.6" width="16" height="8" fill="#fda650" stroke="#7c7c6c" stroke-width="0.7"/>
<text class="l" x="18.1" y="127.5">237 - 512</text>
<rect x="0.3" y="130.5" width="16" height="8" fill="#f0361c" stroke="#7c7c6c" stroke-width="0.7"/>
<text class="l" x="18.1" y="138.4">513 - 1087</text>
</g>
<text class="c" filter="url(#bt)" x="47.5" y="608" textLength="82.4" lengthAdjust="spacing">(i) All Places</text>
<!-- panel j -->
<g transform="translate(224.9 440.4)" filter="url(#bm)">
<use href="#base"/>
<path d="M35.585 12.94h3.235v3.235h-3.235zM29.115 16.175h3.235v3.235h-3.235zM35.585 16.175h3.235v3.235h-3.235zM54.995 16.175h3.235v3.235h-3.235zM35.585 35.585h3.235v3.235h-3.235zM42.055 35.585h3.235v3.235h-3.235zM35.585 38.82h3.235v3.235h-3.235zM42.055 45.29h3.235v3.235h-3.235zM45.29 45.29h3.235v3.235h-3.235zM35.585 48.525h3.235v3.235h-3.235zM38.82 48.525h3.235v3.235h-3.235zM42.055 48.525h3.235v3.235h-3.235zM48.525 48.525h3.235v3.235h-3.235zM51.76 48.525h3.235v3.235h-3.235zM54.995 48.525h3.235v3.235h-3.235zM58.23 48.525h3.235v3.235h-3.235zM61.465 48.525h3.235v3.235h-3.235zM64.7 48.525h3.235v3.235h-3.235zM25.88 54.995h3.235v3.235h-3.235zM29.115 54.995h3.235v3.235h-3.235zM32.35 54.995h3.235v3.235h-3.235zM38.82 54.995h3.235v3.235h-3.235zM64.7 54.995h3.235v3.235h-3.235zM51.76 58.23h3.235v3.235h-3.235zM61.465 58.23h3.235v3.235h-3.235zM29.115 61.465h3.235v3.235h-3.235zM32.35 61.465h3.235v3.235h-3.235zM35.585 61.465h3.235v3.235h-3.235zM38.82 61.465h3.235v3.235h-3.235zM51.76 61.465h3.235v3.235h-3.235zM54.995 61.465h3.235v3.235h-3.235zM58.23 61.465h3.235v3.235h-3.235zM61.465 61.465h3.235v3.235h-3.235zM64.7 61.465h3.235v3.235h-3.235zM32.35 64.7h3.235v3.235h-3.235zM45.29 64.7h3.235v3.235h-3.235zM58.23 64.7h3.235v3.235h-3.235zM51.76 67.935h3.235v3.235h-3.235zM58.23 67.935h3.235v3.235h-3.235zM12.94 71.17h3.235v3.235h-3.235zM29.115 71.17h3.235v3.235h-3.235zM38.82 71.17h3.235v3.235h-3.235zM48.525 71.17h3.235v3.235h-3.235zM51.76 71.17h3.235v3.235h-3.235zM58.23 71.17h3.235v3.235h-3.235zM67.935 71.17h3.235v3.235h-3.235zM35.585 74.405h3.235v3.235h-3.235zM38.82 74.405h3.235v3.235h-3.235zM42.055 74.405h3.235v3.235h-3.235zM54.995 74.405h3.235v3.235h-3.235zM32.35 77.64h3.235v3.235h-3.235zM42.055 77.64h3.235v3.235h-3.235zM45.29 77.64h3.235v3.235h-3.235zM48.525 77.64h3.235v3.235h-3.235zM54.995 77.64h3.235v3.235h-3.235zM58.23 77.64h3.235v3.235h-3.235zM67.935 77.64h3.235v3.235h-3.235zM32.35 80.875h3.235v3.235h-3.235zM45.29 80.875h3.235v3.235h-3.235zM48.525 80.875h3.235v3.235h-3.235zM51.76 80.875h3.235v3.235h-3.235zM3.235 84.11h3.235v3.235h-3.235zM6.47 84.11h3.235v3.235h-3.235zM32.35 84.11h3.235v3.235h-3.235zM45.29 84.11h3.235v3.235h-3.235zM48.525 84.11h3.235v3.235h-3.235zM74.405 84.11h3.235v3.235h-3.235zM35.585 93.815h3.235v3.235h-3.235zM54.995 93.815h3.235v3.235h-3.235zM42.055 100.285h3.235v3.235h-3.235zM45.29 100.285h3.235v3.235h-3.235zM51.76 100.285h3.235v3.235h-3.235zM9.705 103.52h3.235v3.235h-3.235zM54.995 103.52h3.235v3.235h-3.235zM12.94 106.755h3.235v3.235h-3.235zM38.82 106.755h3.235v3.235h-3.235zM58.23 106.755h3.235v3.235h-3.235zM29.115 116.46h3.235v3.235h-3.235zM35.585 116.46h3.235v3.235h-3.235zM67.935 116.46h3.235v3.235h-3.235z" fill="#7ab3a6" stroke="#6691a0" stroke-width="1.05"/>
<path d="M45.29 51.76h3.235v3.235h-3.235zM54.995 51.76h3.235v3.235h-3.235zM38.82 58.23h3.235v3.235h-3.235zM48.525 58.23h3.235v3.235h-3.235zM54.995 58.23h3.235v3.235h-3.235zM42.055 61.465h3.235v3.235h-3.235zM45.29 61.465h3.235v3.235h-3.235zM48.525 61.465h3.235v3.235h-3.235zM48.525 64.7h3.235v3.235h-3.235zM51.76 64.7h3.235v3.235h-3.235zM54.995 64.7h3.235v3.235h-3.235zM16.175 67.935h3.235v3.235h-3.235zM58.23 109.99h3.235v3.235h-3.235zM71.17 116.46h3.235v3.235h-3.235z" fill="#f1e07f" stroke="#8d917c" stroke-width="0.85"/>
<path d="M42.055 54.995h3.235v3.235h-3.235zM48.525 54.995h3.235v3.235h-3.235zM51.76 54.995h3.235v3.235h-3.235zM54.995 54.995h3.235v3.235h-3.235zM42.055 58.23h3.235v3.235h-3.235zM45.29 67.935h3.235v3.235h-3.235zM48.525 67.935h3.235v3.235h-3.235zM51.76 77.64h3.235v3.235h-3.235z" fill="#f6a354" stroke="#92866e" stroke-width="0.85"/>
<path d="M45.29 54.995h3.235v3.235h-3.235zM45.29 58.23h3.235v3.235h-3.235z" fill="#d5412a" stroke="#c4472e" stroke-width="0.6"/>
</g>
<g transform="translate(344.9 440.4)" filter="url(#bt)">
<use href="#arw" y="0"/>
<text class="n" x="6.2" y="6.6" text-anchor="middle">N</text>
<use href="#sbar" y="0"/>
<text class="s" x="-1.6" y="51.5">0</text><text class="s" x="24.2" y="51.5" textLength="20.6" lengthAdjust="spacing">4 km</text>
<text class="v" x="-0.2" y="81">Values</text>
<rect x="0.3" y="86.9" width="16" height="8" fill="#2f8bc4" stroke="#7c7c6c" stroke-width="0.7"/>
<text class="l" x="18.1" y="94.8">0 - 2</text>
<rect x="0.3" y="97.8" width="16" height="8" fill="#6cb8ad" stroke="#7c7c6c" stroke-width="0.7"/>
<text class="l" x="18.1" y="105.7">3 - 11</text>
<rect x="0.3" y="108.7" width="16" height="8" fill="#f0e57c" stroke="#7c7c6c" stroke-width="0.7"/>
<text class="l" x="18.1" y="116.6">12 - 24</text>
<rect x="0.3" y="119.6" width="16" height="8" fill="#fda650" stroke="#7c7c6c" stroke-width="0.7"/>
<text class="l" x="18.1" y="127.5">25 - 38</text>
<rect x="0.3" y="130.5" width="16" height="8" fill="#f0361c" stroke="#7c7c6c" stroke-width="0.7"/>
<text class="l" x="18.1" y="138.4">39 - 84</text>
</g>
<text class="c" filter="url(#bt)" x="214.8" y="608" textLength="187.3" lengthAdjust="spacing">(j) Specialized Industry Place</text>
<!-- panel k -->
<g transform="translate(449.1 440.4)" filter="url(#bm)">
<use href="#base"/>
<path d="M54.995 19.41h3.235v3.235h-3.235zM35.585 35.585h3.235v3.235h-3.235zM38.82 35.585h3.235v3.235h-3.235zM35.585 38.82h3.235v3.235h-3.235zM38.82 38.82h3.235v3.235h-3.235zM61.465 42.055h3.235v3.235h-3.235zM64.7 42.055h3.235v3.235h-3.235zM54.995 45.29h3.235v3.235h-3.235zM58.23 45.29h3.235v3.235h-3.235zM61.465 45.29h3.235v3.235h-3.235zM64.7 45.29h3.235v3.235h-3.235zM35.585 48.525h3.235v3.235h-3.235zM38.82 48.525h3.235v3.235h-3.235zM42.055 48.525h3.235v3.235h-3.235zM45.29 48.525h3.235v3.235h-3.235zM51.76 48.525h3.235v3.235h-3.235zM58.23 48.525h3.235v3.235h-3.235zM61.465 48.525h3.235v3.235h-3.235zM35.585 51.76h3.235v3.235h-3.235zM64.7 51.76h3.235v3.235h-3.235zM67.935 51.76h3.235v3.235h-3.235zM29.115 54.995h3.235v3.235h-3.235zM35.585 58.23h3.235v3.235h-3.235zM58.23 58.23h3.235v3.235h-3.235zM64.7 58.23h3.235v3.235h-3.235zM29.115 61.465h3.235v3.235h-3.235zM54.995 61.465h3.235v3.235h-3.235zM58.23 61.465h3.235v3.235h-3.235zM61.465 61.465h3.235v3.235h-3.235zM64.7 61.465h3.235v3.235h-3.235zM29.115 64.7h3.235v3.235h-3.235zM32.35 64.7h3.235v3.235h-3.235zM45.29 64.7h3.235v3.235h-3.235zM58.23 64.7h3.235v3.235h-3.235zM64.7 64.7h3.235v3.235h-3.235zM84.11 64.7h3.235v3.235h-3.235zM38.82 67.935h3.235v3.235h-3.235zM45.29 67.935h3.235v3.235h-3.235zM29.115 71.17h3.235v3.235h-3.235zM35.585 71.17h3.235v3.235h-3.235zM38.82 71.17h3.235v3.235h-3.235zM48.525 71.17h3.235v3.235h-3.235zM51.76 71.17h3.235v3.235h-3.235zM35.585 74.405h3.235v3.235h-3.235zM42.055 74.405h3.235v3.235h-3.235zM51.76 74.405h3.235v3.235h-3.235zM54.995 74.405h3.235v3.235h-3.235zM42.055 77.64h3.235v3.235h-3.235zM45.29 77.64h3.235v3.235h-3.235zM48.525 77.64h3.235v3.235h-3.235zM61.465 77.64h3.235v3.235h-3.235zM64.7 77.64h3.235v3.235h-3.235zM32.35 80.875h3.235v3.235h-3.235zM35.585 80.875h3.235v3.235h-3.235zM42.055 80.875h3.235v3.235h-3.235zM48.525 80.875h3.235v3.235h-3.235zM51.76 80.875h3.235v3.235h-3.235zM0 84.11h3.235v3.235h-3.235zM45.29 90.58h3.235v3.235h-3.235zM48.525 90.58h3.235v3.235h-3.235zM35.585 93.815h3.235v3.235h-3.235zM45.29 93.815h3.235v3.235h-3.235zM54.995 93.815h3.235v3.235h-3.235zM29.115 103.52h3.235v3.235h-3.235zM29.115 106.755h3.235v3.235h-3.235zM54.995 106.755h3.235v3.235h-3.235zM58.23 109.99h3.235v3.235h-3.235zM74.405 116.46h3.235v3.235h-3.235zM84.11 132.635h3.235v3.235h-3.235z" fill="#7ab3a6" stroke="#6691a0" stroke-width="1.05"/>
<path d="M54.995 48.525h3.235v3.235h-3.235zM48.525 51.76h3.235v3.235h-3.235zM38.82 58.23h3.235v3.235h-3.235zM48.525 58.23h3.235v3.235h-3.235zM54.995 58.23h3.235v3.235h-3.235zM61.465 58.23h3.235v3.235h-3.235zM38.82 61.465h3.235v3.235h-3.235zM45.29 61.465h3.235v3.235h-3.235zM51.76 61.465h3.235v3.235h-3.235zM51.76 64.7h3.235v3.235h-3.235zM54.995 64.7h3.235v3.235h-3.235zM48.525 67.935h3.235v3.235h-3.235zM51.76 67.935h3.235v3.235h-3.235zM51.76 77.64h3.235v3.235h-3.235zM48.525 93.815h3.235v3.235h-3.235zM25.88 116.46h3.235v3.235h-3.235z" fill="#f1e07f" stroke="#8d917c" stroke-width="0.85"/>
<path d="M45.29 51.76h3.235v3.235h-3.235zM51.76 51.76h3.235v3.235h-3.235zM38.82 54.995h3.235v3.235h-3.235zM42.055 54.995h3.235v3.235h-3.235zM48.525 54.995h3.235v3.235h-3.235zM51.76 54.995h3.235v3.235h-3.235zM54.995 54.995h3.235v3.235h-3.235zM42.055 58.23h3.235v3.235h-3.235zM45.29 58.23h3.235v3.235h-3.235zM51.76 58.23h3.235v3.235h-3.235zM42.055 61.465h3.235v3.235h-3.235zM48.525 61.465h3.235v3.235h-3.235zM48.525 64.7h3.235v3.235h-3.235z" fill="#f6a354" stroke="#92866e" stroke-width="0.85"/>
<path d="M54.995 51.76h3.235v3.235h-3.235zM45.29 54.995h3.235v3.235h-3.235z" fill="#d5412a" stroke="#c4472e" stroke-width="0.6"/>
</g>
<g transform="translate(568.8 440.4)" filter="url(#bt)">
<use href="#arw" y="0"/>
<text class="n" x="6.2" y="6.6" text-anchor="middle">N</text>
<use href="#sbar" y="0"/>
<text class="s" x="-1.6" y="51.5">0</text><text class="s" x="24.2" y="51.5" textLength="20.6" lengthAdjust="spacing">4 km</text>
<text class="v" x="-0.2" y="81">Values</text>
<rect x="0.3" y="86.9" width="16" height="8" fill="#2f8bc4" stroke="#7c7c6c" stroke-width="0.7"/>
<text class="l" x="18.1" y="94.8">0 - 2</text>
<rect x="0.3" y="97.8" width="16" height="8" fill="#6cb8ad" stroke="#7c7c6c" stroke-width="0.7"/>
<text class="l" x="18.1" y="105.7">3 - 11</text>
<rect x="0.3" y="108.7" width="16" height="8" fill="#f0e57c" stroke="#7c7c6c" stroke-width="0.7"/>
<text class="l" x="18.1" y="116.6">12 - 27</text>
<rect x="0.3" y="119.6" width="16" height="8" fill="#fda650" stroke="#7c7c6c" stroke-width="0.7"/>
<text class="l" x="18.1" y="127.5">28 - 55</text>
<rect x="0.3" y="130.5" width="16" height="8" fill="#f0361c" stroke="#7c7c6c" stroke-width="0.7"/>
<text class="l" x="18.1" y="138.4">56 - 91</text>
</g>
<text class="c" filter="url(#bt)" x="412.1" y="608" textLength="235.7" lengthAdjust="spacing">(k) Recreation &amp; Entertainment Place</text>
<!-- panel l -->
<g transform="translate(672.4 440.9)" filter="url(#bm)">
<use href="#base"/>
<path d="M32.35 12.94h3.235v3.235h-3.235zM32.35 16.175h3.235v3.235h-3.235zM29.115 19.41h3.235v3.235h-3.235zM32.35 22.645h3.235v3.235h-3.235zM35.585 22.645h3.235v3.235h-3.235zM32.35 25.88h3.235v3.235h-3.235zM87.345 32.35h3.235v3.235h-3.235zM35.585 35.585h3.235v3.235h-3.235zM42.055 35.585h3.235v3.235h-3.235zM61.465 38.82h3.235v3.235h-3.235zM64.7 38.82h3.235v3.235h-3.235zM80.875 42.055h3.235v3.235h-3.235zM25.88 45.29h3.235v3.235h-3.235zM29.115 45.29h3.235v3.235h-3.235zM45.29 45.29h3.235v3.235h-3.235zM71.17 45.29h3.235v3.235h-3.235zM87.345 45.29h3.235v3.235h-3.235zM45.29 48.525h3.235v3.235h-3.235zM67.935 48.525h3.235v3.235h-3.235zM71.17 48.525h3.235v3.235h-3.235zM54.995 51.76h3.235v3.235h-3.235zM74.405 51.76h3.235v3.235h-3.235zM77.64 51.76h3.235v3.235h-3.235zM80.875 51.76h3.235v3.235h-3.235zM35.585 54.995h3.235v3.235h-3.235zM58.23 54.995h3.235v3.235h-3.235zM84.11 58.23h3.235v3.235h-3.235zM35.585 61.465h3.235v3.235h-3.235zM38.82 61.465h3.235v3.235h-3.235zM54.995 61.465h3.235v3.235h-3.235zM58.23 64.7h3.235v3.235h-3.235zM38.82 67.935h3.235v3.235h-3.235zM45.29 71.17h3.235v3.235h-3.235zM54.995 71.17h3.235v3.235h-3.235zM29.115 74.405h3.235v3.235h-3.235zM64.7 74.405h3.235v3.235h-3.235zM54.995 77.64h3.235v3.235h-3.235zM29.115 93.815h3.235v3.235h-3.235zM54.995 93.815h3.235v3.235h-3.235zM58.23 93.815h3.235v3.235h-3.235zM32.35 97.05h3.235v3.235h-3.235zM38.82 97.05h3.235v3.235h-3.235zM58.23 97.05h3.235v3.235h-3.235zM32.35 100.285h3.235v3.235h-3.235zM35.585 100.285h3.235v3.235h-3.235zM35.585 103.52h3.235v3.235h-3.235zM48.525 103.52h3.235v3.235h-3.235zM9.705 106.755h3.235v3.235h-3.235zM32.35 106.755h3.235v3.235h-3.235zM45.29 106.755h3.235v3.235h-3.235zM74.405 116.46h3.235v3.235h-3.235zM87.345 119.695h3.235v3.235h-3.235z" fill="#7ab3a6" stroke="#6691a0" stroke-width="1.05"/>
<path d="M35.585 16.175h3.235v3.235h-3.235zM77.64 42.055h3.235v3.235h-3.235zM77.64 45.29h3.235v3.235h-3.235zM74.405 48.525h3.235v3.235h-3.235zM51.76 67.935h3.235v3.235h-3.235zM38.82 93.815h3.235v3.235h-3.235zM42.055 97.05h3.235v3.235h-3.235zM61.465 97.05h3.235v3.235h-3.235zM45.29 100.285h3.235v3.235h-3.235zM38.82 103.52h3.235v3.235h-3.235zM51.76 103.52h3.235v3.235h-3.235zM54.995 106.755h3.235v3.235h-3.235zM58.23 106.755h3.235v3.235h-3.235zM54.995 109.99h3.235v3.235h-3.235z" fill="#f1e07f" stroke="#8d917c" stroke-width="0.85"/>
<path d="M32.35 32.35h3.235v3.235h-3.235zM67.935 45.29h3.235v3.235h-3.235zM84.11 45.29h3.235v3.235h-3.235zM29.115 51.76h3.235v3.235h-3.235zM45.29 93.815h3.235v3.235h-3.235zM42.055 100.285h3.235v3.235h-3.235zM45.29 103.52h3.235v3.235h-3.235z" fill="#f6a354" stroke="#92866e" stroke-width="0.85"/>
<path d="M80.875 45.29h3.235v3.235h-3.235zM35.585 51.76h3.235v3.235h-3.235z" fill="#d5412a" stroke="#c4472e" stroke-width="0.6"/>
</g>
<g transform="translate(792.2 440.8)" filter="url(#bt)">
<use href="#arw" y="0"/>
<text class="n" x="6.2" y="6.6" text-anchor="middle">N</text>
<use href="#sbar" y="0"/>
<text class="s" x="-1.6" y="51.5">0</text><text class="s" x="24.2" y="51.5" textLength="20.6" lengthAdjust="spacing">4 km</text>
<text class="v" x="-0.2" y="81">Values</text>
<rect x="0.3" y="86.9" width="16" height="8" fill="#2f8bc4" stroke="#7c7c6c" stroke-width="0.7"/>
<text class="l" x="18.1" y="94.8">0</text>
<rect x="0.3" y="97.8" width="16" height="8" fill="#6cb8ad" stroke="#7c7c6c" stroke-width="0.7"/>
<text class="l" x="18.1" y="105.7">1</text>
<rect x="0.3" y="108.7" width="16" height="8" fill="#f0e57c" stroke="#7c7c6c" stroke-width="0.7"/>
<text class="l" x="18.1" y="116.6">2</text>
<rect x="0.3" y="119.6" width="16" height="8" fill="#fda650" stroke="#7c7c6c" stroke-width="0.7"/>
<text class="l" x="18.1" y="127.5">3</text>
<rect x="0.3" y="130.5" width="16" height="8" fill="#f0361c" stroke="#7c7c6c" stroke-width="0.7"/>
<text class="l" x="18.1" y="138.4">4 - 5</text>
</g>
<text class="c" filter="url(#bt)" x="651.8" y="608" textLength="203.8" lengthAdjust="spacing">(l) Hazardous Chemicals Place</text>
<!-- panel m -->
<g transform="translate(4.6 651.6)" filter="url(#bm)">
<use href="#base"/>
<path d="M35.585 16.175h3.235v3.235h-3.235zM45.29 29.115h3.235v3.235h-3.235zM32.35 32.35h3.235v3.235h-3.235zM38.82 32.35h3.235v3.235h-3.235zM80.875 32.35h3.235v3.235h-3.235zM42.055 35.585h3.235v3.235h-3.235zM51.76 35.585h3.235v3.235h-3.235zM32.35 38.82h3.235v3.235h-3.235zM42.055 38.82h3.235v3.235h-3.235zM45.29 38.82h3.235v3.235h-3.235zM61.465 38.82h3.235v3.235h-3.235zM32.35 42.055h3.235v3.235h-3.235zM35.585 42.055h3.235v3.235h-3.235zM45.29 42.055h3.235v3.235h-3.235zM67.935 42.055h3.235v3.235h-3.235zM74.405 42.055h3.235v3.235h-3.235zM29.115 45.29h3.235v3.235h-3.235zM42.055 45.29h3.235v3.235h-3.235zM45.29 45.29h3.235v3.235h-3.235zM67.935 45.29h3.235v3.235h-3.235zM29.115 48.525h3.235v3.235h-3.235zM38.82 48.525h3.235v3.235h-3.235zM42.055 48.525h3.235v3.235h-3.235zM58.23 48.525h3.235v3.235h-3.235zM64.7 48.525h3.235v3.235h-3.235zM45.29 51.76h3.235v3.235h-3.235zM54.995 51.76h3.235v3.235h-3.235zM29.115 54.995h3.235v3.235h-3.235zM38.82 54.995h3.235v3.235h-3.235zM42.055 54.995h3.235v3.235h-3.235zM54.995 54.995h3.235v3.235h-3.235zM58.23 54.995h3.235v3.235h-3.235zM71.17 54.995h3.235v3.235h-3.235zM84.11 54.995h3.235v3.235h-3.235zM51.76 58.23h3.235v3.235h-3.235zM54.995 58.23h3.235v3.235h-3.235zM67.935 58.23h3.235v3.235h-3.235zM25.88 61.465h3.235v3.235h-3.235zM38.82 61.465h3.235v3.235h-3.235zM45.29 61.465h3.235v3.235h-3.235zM48.525 61.465h3.235v3.235h-3.235zM54.995 61.465h3.235v3.235h-3.235zM58.23 61.465h3.235v3.235h-3.235zM64.7 61.465h3.235v3.235h-3.235zM67.935 61.465h3.235v3.235h-3.235zM51.76 64.7h3.235v3.235h-3.235zM54.995 64.7h3.235v3.235h-3.235zM38.82 67.935h3.235v3.235h-3.235zM48.525 67.935h3.235v3.235h-3.235zM51.76 67.935h3.235v3.235h-3.235zM54.995 67.935h3.235v3.235h-3.235zM58.23 67.935h3.235v3.235h-3.235zM38.82 71.17h3.235v3.235h-3.235zM45.29 71.17h3.235v3.235h-3.235zM58.23 71.17h3.235v3.235h-3.235zM71.17 71.17h3.235v3.235h-3.235zM32.35 74.405h3.235v3.235h-3.235zM38.82 74.405h3.235v3.235h-3.235zM42.055 74.405h3.235v3.235h-3.235zM45.29 74.405h3.235v3.235h-3.235zM48.525 74.405h3.235v3.235h-3.235zM58.23 74.405h3.235v3.235h-3.235zM61.465 74.405h3.235v3.235h-3.235zM71.17 74.405h3.235v3.235h-3.235zM35.585 77.64h3.235v3.235h-3.235zM64.7 77.64h3.235v3.235h-3.235zM67.935 77.64h3.235v3.235h-3.235zM29.115 80.875h3.235v3.235h-3.235zM42.055 80.875h3.235v3.235h-3.235zM61.465 80.875h3.235v3.235h-3.235zM29.115 84.11h3.235v3.235h-3.235zM35.585 84.11h3.235v3.235h-3.235zM42.055 84.11h3.235v3.235h-3.235zM48.525 84.11h3.235v3.235h-3.235zM74.405 84.11h3.235v3.235h-3.235zM6.47 87.345h3.235v3.235h-3.235zM48.525 87.345h3.235v3.235h-3.235zM35.585 90.58h3.235v3.235h-3.235zM38.82 90.58h3.235v3.235h-3.235zM48.525 90.58h3.235v3.235h-3.235zM48.525 93.815h3.235v3.235h-3.235zM54.995 93.815h3.235v3.235h-3.235zM38.82 97.05h3.235v3.235h-3.235zM48.525 97.05h3.235v3.235h-3.235zM9.705 100.285h3.235v3.235h-3.235zM42.055 103.52h3.235v3.235h-3.235zM48.525 106.755h3.235v3.235h-3.235zM48.525 113.225h3.235v3.235h-3.235zM71.17 116.46h3.235v3.235h-3.235z" fill="#7ab3a6" stroke="#6691a0" stroke-width="1.05"/>
<path d="M35.585 45.29h3.235v3.235h-3.235zM45.29 48.525h3.235v3.235h-3.235zM25.88 54.995h3.235v3.235h-3.235zM48.525 54.995h3.235v3.235h-3.235zM42.055 58.23h3.235v3.235h-3.235zM42.055 61.465h3.235v3.235h-3.235zM45.29 67.935h3.235v3.235h-3.235zM64.7 67.935h3.235v3.235h-3.235zM42.055 71.17h3.235v3.235h-3.235zM48.525 71.17h3.235v3.235h-3.235zM12.94 77.64h3.235v3.235h-3.235zM45.29 77.64h3.235v3.235h-3.235zM45.29 80.875h3.235v3.235h-3.235zM48.525 80.875h3.235v3.235h-3.235zM25.88 84.11h3.235v3.235h-3.235zM54.995 106.755h3.235v3.235h-3.235zM58.23 106.755h3.235v3.235h-3.235zM74.405 116.46h3.235v3.235h-3.235z" fill="#f1e07f" stroke="#8d917c" stroke-width="0.85"/>
<path d="M35.585 48.525h3.235v3.235h-3.235zM51.76 48.525h3.235v3.235h-3.235zM51.76 54.995h3.235v3.235h-3.235zM38.82 58.23h3.235v3.235h-3.235zM45.29 58.23h3.235v3.235h-3.235zM48.525 58.23h3.235v3.235h-3.235zM45.29 64.7h3.235v3.235h-3.235zM48.525 64.7h3.235v3.235h-3.235zM35.585 71.17h3.235v3.235h-3.235zM51.76 71.17h3.235v3.235h-3.235zM51.76 74.405h3.235v3.235h-3.235zM58.23 109.99h3.235v3.235h-3.235z" fill="#f6a354" stroke="#92866e" stroke-width="0.85"/>
<path d="M45.29 54.995h3.235v3.235h-3.235z" fill="#d5412a" stroke="#c4472e" stroke-width="0.6"/>
</g>
<g transform="translate(124.2 651.6)" filter="url(#bt)">
<use href="#arw" y="0"/>
<text class="n" x="6.2" y="6.6" text-anchor="middle">N</text>
<use href="#sbar" y="0"/>
<text class="s" x="-1.6" y="51.5">0</text><text class="s" x="24.2" y="51.5" textLength="20.6" lengthAdjust="spacing">4 km</text>
<text class="v" x="-0.2" y="81">Values</text>
<rect x="0.3" y="86.9" width="16" height="8" fill="#2f8bc4" stroke="#7c7c6c" stroke-width="0.7"/>
<text class="l" x="18.1" y="94.8">0</text>
<rect x="0.3" y="97.8" width="16" height="8" fill="#6cb8ad" stroke="#7c7c6c" stroke-width="0.7"/>
<text class="l" x="18.1" y="105.7">1 - 2</text>
<rect x="0.3" y="108.7" width="16" height="8" fill="#f0e57c" stroke="#7c7c6c" stroke-width="0.7"/>
<text class="l" x="18.1" y="116.6">3 - 5</text>
<rect x="0.3" y="119.6" width="16" height="8" fill="#fda650" stroke="#7c7c6c" stroke-width="0.7"/>
<text class="l" x="18.1" y="127.5">6 - 8</text>
<rect x="0.3" y="130.5" width="16" height="8" fill="#f0361c" stroke="#7c7c6c" stroke-width="0.7"/>
<text class="l" x="18.1" y="138.4">9 - 11</text>
</g>
<text class="c" filter="url(#bt)" x="47.5" y="819" textLength="82.4" lengthAdjust="spacing">(m) Key Site</text>
<!-- panel n -->
<g transform="translate(224.9 651.6)" filter="url(#bm)">
<use href="#base"/>
<path d="M32.35 12.94h3.235v3.235h-3.235zM35.585 12.94h3.235v3.235h-3.235zM32.35 16.175h3.235v3.235h-3.235zM29.115 19.41h3.235v3.235h-3.235zM54.995 19.41h3.235v3.235h-3.235zM32.35 25.88h3.235v3.235h-3.235zM25.88 35.585h3.235v3.235h-3.235zM32.35 35.585h3.235v3.235h-3.235zM35.585 35.585h3.235v3.235h-3.235zM42.055 35.585h3.235v3.235h-3.235zM61.465 35.585h3.235v3.235h-3.235zM77.64 35.585h3.235v3.235h-3.235zM29.115 38.82h3.235v3.235h-3.235zM64.7 38.82h3.235v3.235h-3.235zM29.115 42.055h3.235v3.235h-3.235zM32.35 42.055h3.235v3.235h-3.235zM74.405 42.055h3.235v3.235h-3.235zM77.64 42.055h3.235v3.235h-3.235zM25.88 45.29h3.235v3.235h-3.235zM29.115 45.29h3.235v3.235h-3.235zM32.35 45.29h3.235v3.235h-3.235zM35.585 45.29h3.235v3.235h-3.235zM38.82 45.29h3.235v3.235h-3.235zM51.76 45.29h3.235v3.235h-3.235zM58.23 45.29h3.235v3.235h-3.235zM61.465 45.29h3.235v3.235h-3.235zM71.17 45.29h3.235v3.235h-3.235zM74.405 45.29h3.235v3.235h-3.235zM77.64 45.29h3.235v3.235h-3.235zM80.875 45.29h3.235v3.235h-3.235zM22.645 48.525h3.235v3.235h-3.235zM25.88 48.525h3.235v3.235h-3.235zM71.17 48.525h3.235v3.235h-3.235zM77.64 48.525h3.235v3.235h-3.235zM25.88 51.76h3.235v3.235h-3.235zM29.115 51.76h3.235v3.235h-3.235zM32.35 51.76h3.235v3.235h-3.235zM35.585 51.76h3.235v3.235h-3.235zM45.29 51.76h3.235v3.235h-3.235zM19.41 54.995h3.235v3.235h-3.235zM32.35 54.995h3.235v3.235h-3.235zM35.585 54.995h3.235v3.235h-3.235zM64.7 58.23h3.235v3.235h-3.235zM22.645 61.465h3.235v3.235h-3.235zM29.115 61.465h3.235v3.235h-3.235zM25.88 64.7h3.235v3.235h-3.235zM35.585 64.7h3.235v3.235h-3.235zM38.82 64.7h3.235v3.235h-3.235zM42.055 64.7h3.235v3.235h-3.235zM19.41 67.935h3.235v3.235h-3.235zM22.645 67.935h3.235v3.235h-3.235zM38.82 67.935h3.235v3.235h-3.235zM54.995 67.935h3.235v3.235h-3.235zM58.23 67.935h3.235v3.235h-3.235zM61.465 67.935h3.235v3.235h-3.235zM67.935 67.935h3.235v3.235h-3.235zM35.585 71.17h3.235v3.235h-3.235zM38.82 71.17h3.235v3.235h-3.235zM58.23 71.17h3.235v3.235h-3.235zM61.465 71.17h3.235v3.235h-3.235zM67.935 71.17h3.235v3.235h-3.235zM38.82 74.405h3.235v3.235h-3.235zM42.055 74.405h3.235v3.235h-3.235zM45.29 74.405h3.235v3.235h-3.235zM48.525 74.405h3.235v3.235h-3.235zM58.23 74.405h3.235v3.235h-3.235zM16.175 77.64h3.235v3.235h-3.235zM38.82 77.64h3.235v3.235h-3.235zM61.465 77.64h3.235v3.235h-3.235zM35.585 80.875h3.235v3.235h-3.235zM42.055 80.875h3.235v3.235h-3.235zM54.995 80.875h3.235v3.235h-3.235zM61.465 80.875h3.235v3.235h-3.235zM67.935 80.875h3.235v3.235h-3.235zM0 84.11h3.235v3.235h-3.235zM3.235 84.11h3.235v3.235h-3.235zM6.47 84.11h3.235v3.235h-3.235zM32.35 84.11h3.235v3.235h-3.235zM45.29 84.11h3.235v3.235h-3.235zM48.525 84.11h3.235v3.235h-3.235zM74.405 84.11h3.235v3.235h-3.235zM48.525 87.345h3.235v3.235h-3.235zM38.82 90.58h3.235v3.235h-3.235zM42.055 90.58h3.235v3.235h-3.235zM45.29 90.58h3.235v3.235h-3.235zM38.82 93.815h3.235v3.235h-3.235zM45.29 93.815h3.235v3.235h-3.235zM42.055 97.05h3.235v3.235h-3.235zM45.29 97.05h3.235v3.235h-3.235zM48.525 97.05h3.235v3.235h-3.235zM35.585 100.285h3.235v3.235h-3.235zM38.82 100.285h3.235v3.235h-3.235zM42.055 100.285h3.235v3.235h-3.235zM45.29 100.285h3.235v3.235h-3.235zM29.115 103.52h3.235v3.235h-3.235zM32.35 103.52h3.235v3.235h-3.235zM38.82 103.52h3.235v3.235h-3.235zM42.055 103.52h3.235v3.235h-3.235zM45.29 103.52h3.235v3.235h-3.235zM80.875 103.52h3.235v3.235h-3.235zM25.88 106.755h3.235v3.235h-3.235zM32.35 106.755h3.235v3.235h-3.235zM38.82 106.755h3.235v3.235h-3.235zM48.525 106.755h3.235v3.235h-3.235zM51.76 106.755h3.235v3.235h-3.235zM29.115 109.99h3.235v3.235h-3.235zM51.76 109.99h3.235v3.235h-3.235zM25.88 113.225h3.235v3.235h-3.235zM51.76 113.225h3.235v3.235h-3.235zM61.465 116.46h3.235v3.235h-3.235zM67.935 116.46h3.235v3.235h-3.235zM74.405 119.695h3.235v3.235h-3.235zM58.23 135.87h3.235v3.235h-3.235z" fill="#7ab3a6" stroke="#6691a0" stroke-width="1.05"/>
<path d="M35.585 16.175h3.235v3.235h-3.235zM38.82 35.585h3.235v3.235h-3.235zM35.585 38.82h3.235v3.235h-3.235zM38.82 38.82h3.235v3.235h-3.235zM61.465 38.82h3.235v3.235h-3.235zM25.88 42.055h3.235v3.235h-3.235zM35.585 42.055h3.235v3.235h-3.235zM45.29 42.055h3.235v3.235h-3.235zM61.465 42.055h3.235v3.235h-3.235zM71.17 42.055h3.235v3.235h-3.235zM42.055 45.29h3.235v3.235h-3.235zM45.29 45.29h3.235v3.235h-3.235zM67.935 45.29h3.235v3.235h-3.235zM84.11 45.29h3.235v3.235h-3.235zM29.115 48.525h3.235v3.235h-3.235zM32.35 48.525h3.235v3.235h-3.235zM38.82 48.525h3.235v3.235h-3.235zM45.29 48.525h3.235v3.235h-3.235zM58.23 48.525h3.235v3.235h-3.235zM67.935 48.525h3.235v3.235h-3.235zM38.82 51.76h3.235v3.235h-3.235zM25.88 54.995h3.235v3.235h-3.235zM29.115 54.995h3.235v3.235h-3.235zM38.82 54.995h3.235v3.235h-3.235zM42.055 54.995h3.235v3.235h-3.235zM38.82 58.23h3.235v3.235h-3.235zM54.995 58.23h3.235v3.235h-3.235zM61.465 58.23h3.235v3.235h-3.235zM35.585 61.465h3.235v3.235h-3.235zM38.82 61.465h3.235v3.235h-3.235zM54.995 61.465h3.235v3.235h-3.235zM58.23 61.465h3.235v3.235h-3.235zM61.465 61.465h3.235v3.235h-3.235zM64.7 61.465h3.235v3.235h-3.235zM32.35 64.7h3.235v3.235h-3.235zM45.29 64.7h3.235v3.235h-3.235zM54.995 64.7h3.235v3.235h-3.235zM58.23 64.7h3.235v3.235h-3.235zM61.465 64.7h3.235v3.235h-3.235zM64.7 64.7h3.235v3.235h-3.235zM32.35 67.935h3.235v3.235h-3.235zM51.76 67.935h3.235v3.235h-3.235zM29.115 71.17h3.235v3.235h-3.235zM51.76 71.17h3.235v3.235h-3.235zM51.76 74.405h3.235v3.235h-3.235zM54.995 74.405h3.235v3.235h-3.235zM45.29 77.64h3.235v3.235h-3.235zM48.525 77.64h3.235v3.235h-3.235zM54.995 77.64h3.235v3.235h-3.235zM58.23 77.64h3.235v3.235h-3.235zM64.7 77.64h3.235v3.235h-3.235zM67.935 77.64h3.235v3.235h-3.235zM32.35 80.875h3.235v3.235h-3.235zM45.29 80.875h3.235v3.235h-3.235zM48.525 80.875h3.235v3.235h-3.235zM51.76 80.875h3.235v3.235h-3.235zM42.055 84.11h3.235v3.235h-3.235zM35.585 90.58h3.235v3.235h-3.235zM48.525 90.58h3.235v3.235h-3.235zM42.055 93.815h3.235v3.235h-3.235zM58.23 93.815h3.235v3.235h-3.235zM9.705 103.52h3.235v3.235h-3.235zM35.585 103.52h3.235v3.235h-3.235zM29.115 106.755h3.235v3.235h-3.235zM58.23 106.755h3.235v3.235h-3.235zM58.23 109.99h3.235v3.235h-3.235zM25.88 116.46h3.235v3.235h-3.235zM71.17 116.46h3.235v3.235h-3.235zM74.405 116.46h3.235v3.235h-3.235z" fill="#f1e07f" stroke="#8d917c" stroke-width="0.85"/>
<path d="M32.35 32.35h3.235v3.235h-3.235zM64.7 42.055h3.235v3.235h-3.235zM64.7 45.29h3.235v3.235h-3.235zM35.585 48.525h3.235v3.235h-3.235zM42.055 48.525h3.235v3.235h-3.235zM48.525 48.525h3.235v3.235h-3.235zM22.645 51.76h3.235v3.235h-3.235zM48.525 51.76h3.235v3.235h-3.235zM54.995 51.76h3.235v3.235h-3.235zM22.645 54.995h3.235v3.235h-3.235zM54.995 54.995h3.235v3.235h-3.235zM42.055 58.23h3.235v3.235h-3.235zM45.29 58.23h3.235v3.235h-3.235zM42.055 61.465h3.235v3.235h-3.235zM45.29 61.465h3.235v3.235h-3.235zM48.525 61.465h3.235v3.235h-3.235zM29.115 64.7h3.235v3.235h-3.235zM51.76 64.7h3.235v3.235h-3.235zM35.585 67.935h3.235v3.235h-3.235zM45.29 67.935h3.235v3.235h-3.235zM48.525 67.935h3.235v3.235h-3.235zM32.35 71.17h3.235v3.235h-3.235zM32.35 74.405h3.235v3.235h-3.235zM35.585 93.815h3.235v3.235h-3.235zM48.525 93.815h3.235v3.235h-3.235zM54.995 93.815h3.235v3.235h-3.235zM54.995 106.755h3.235v3.235h-3.235z" fill="#f6a354" stroke="#92866e" stroke-width="0.85"/>
<path d="M29.115 35.585h3.235v3.235h-3.235zM45.29 54.995h3.235v3.235h-3.235zM48.525 54.995h3.235v3.235h-3.235zM51.76 54.995h3.235v3.235h-3.235zM48.525 58.23h3.235v3.235h-3.235zM51.76 58.23h3.235v3.235h-3.235zM51.76 61.465h3.235v3.235h-3.235zM48.525 64.7h3.235v3.235h-3.235zM16.175 67.935h3.235v3.235h-3.235zM32.35 77.64h3.235v3.235h-3.235zM51.76 77.64h3.235v3.235h-3.235z" fill="#d5412a" stroke="#c4472e" stroke-width="0.6"/>
</g>
<g transform="translate(344.9 651.6)" filter="url(#bt)">
<use href="#arw" y="0"/>
<text class="n" x="6.2" y="6.6" text-anchor="middle">N</text>
<use href="#sbar" y="0"/>
<text class="s" x="-1.6" y="51.5">0</text><text class="s" x="24.2" y="51.5" textLength="20.6" lengthAdjust="spacing">4 km</text>
<text class="v" x="-0.2" y="81">Values</text>
<rect x="0.3" y="86.9" width="16" height="8" fill="#2f8bc4" stroke="#7c7c6c" stroke-width="0.7"/>
<text class="l" x="18.1" y="94.8">0 - 21</text>
<rect x="0.3" y="97.8" width="16" height="8" fill="#6cb8ad" stroke="#7c7c6c" stroke-width="0.7"/>
<text class="l" x="18.1" y="105.7">22 - 78</text>
<rect x="0.3" y="108.7" width="16" height="8" fill="#f0e57c" stroke="#7c7c6c" stroke-width="0.7"/>
<text class="l" x="18.1" y="116.6">79 - 166</text>
<rect x="0.3" y="119.6" width="16" height="8" fill="#fda650" stroke="#7c7c6c" stroke-width="0.7"/>
<text class="l" x="18.1" y="127.5">167 - 304</text>
<rect x="0.3" y="130.5" width="16" height="8" fill="#f0361c" stroke="#7c7c6c" stroke-width="0.7"/>
<text class="l" x="18.1" y="138.4">305 - 1045</text>
</g>
<text class="c" filter="url(#bt)" x="219.8" y="819" textLength="179.8" lengthAdjust="spacing">(n) Ordinary Business Place</text>
<!-- panel o -->
<g transform="translate(449.1 651.6)" filter="url(#bm)">
<use href="#base"/>
<path d="M42.055 12.94h3.235v3.235h-3.235zM67.935 12.94h3.235v3.235h-3.235zM51.76 16.175h3.235v3.235h-3.235zM54.995 16.175h3.235v3.235h-3.235zM51.76 19.41h3.235v3.235h-3.235zM71.17 19.41h3.235v3.235h-3.235zM42.055 22.645h3.235v3.235h-3.235zM64.7 22.645h3.235v3.235h-3.235zM67.935 22.645h3.235v3.235h-3.235zM42.055 25.88h3.235v3.235h-3.235zM45.29 25.88h3.235v3.235h-3.235zM61.465 25.88h3.235v3.235h-3.235zM64.7 25.88h3.235v3.235h-3.235zM45.29 29.115h3.235v3.235h-3.235zM64.7 29.115h3.235v3.235h-3.235zM84.11 29.115h3.235v3.235h-3.235zM35.585 32.35h3.235v3.235h-3.235zM38.82 32.35h3.235v3.235h-3.235zM42.055 32.35h3.235v3.235h-3.235zM51.76 32.35h3.235v3.235h-3.235zM54.995 32.35h3.235v3.235h-3.235zM45.29 35.585h3.235v3.235h-3.235zM61.465 35.585h3.235v3.235h-3.235zM87.345 35.585h3.235v3.235h-3.235zM61.465 38.82h3.235v3.235h-3.235zM74.405 38.82h3.235v3.235h-3.235zM77.64 38.82h3.235v3.235h-3.235zM42.055 42.055h3.235v3.235h-3.235zM45.29 42.055h3.235v3.235h-3.235zM74.405 42.055h3.235v3.235h-3.235zM77.64 42.055h3.235v3.235h-3.235zM87.345 42.055h3.235v3.235h-3.235zM32.35 45.29h3.235v3.235h-3.235zM84.11 45.29h3.235v3.235h-3.235zM48.525 48.525h3.235v3.235h-3.235zM67.935 48.525h3.235v3.235h-3.235zM12.94 51.76h3.235v3.235h-3.235zM16.175 51.76h3.235v3.235h-3.235zM19.41 51.76h3.235v3.235h-3.235zM25.88 51.76h3.235v3.235h-3.235zM32.35 51.76h3.235v3.235h-3.235zM42.055 51.76h3.235v3.235h-3.235zM61.465 51.76h3.235v3.235h-3.235zM71.17 51.76h3.235v3.235h-3.235zM6.47 54.995h3.235v3.235h-3.235zM9.705 54.995h3.235v3.235h-3.235zM16.175 54.995h3.235v3.235h-3.235zM25.88 54.995h3.235v3.235h-3.235zM29.115 54.995h3.235v3.235h-3.235zM32.35 54.995h3.235v3.235h-3.235zM58.23 54.995h3.235v3.235h-3.235zM67.935 54.995h3.235v3.235h-3.235zM9.705 58.23h3.235v3.235h-3.235zM16.175 58.23h3.235v3.235h-3.235zM29.115 58.23h3.235v3.235h-3.235zM71.17 58.23h3.235v3.235h-3.235zM6.47 61.465h3.235v3.235h-3.235zM16.175 61.465h3.235v3.235h-3.235zM32.35 61.465h3.235v3.235h-3.235zM51.76 61.465h3.235v3.235h-3.235zM58.23 61.465h3.235v3.235h-3.235zM61.465 61.465h3.235v3.235h-3.235zM64.7 61.465h3.235v3.235h-3.235zM84.11 61.465h3.235v3.235h-3.235zM87.345 61.465h3.235v3.235h-3.235zM9.705 64.7h3.235v3.235h-3.235zM12.94 64.7h3.235v3.235h-3.235zM22.645 64.7h3.235v3.235h-3.235zM25.88 64.7h3.235v3.235h-3.235zM29.115 64.7h3.235v3.235h-3.235zM67.935 64.7h3.235v3.235h-3.235zM71.17 64.7h3.235v3.235h-3.235zM74.405 64.7h3.235v3.235h-3.235zM93.815 64.7h3.235v3.235h-3.235zM16.175 67.935h3.235v3.235h-3.235zM67.935 67.935h3.235v3.235h-3.235zM74.405 67.935h3.235v3.235h-3.235zM9.705 71.17h3.235v3.235h-3.235zM25.88 71.17h3.235v3.235h-3.235zM32.35 71.17h3.235v3.235h-3.235zM38.82 71.17h3.235v3.235h-3.235zM61.465 71.17h3.235v3.235h-3.235zM67.935 71.17h3.235v3.235h-3.235zM84.11 71.17h3.235v3.235h-3.235zM51.76 74.405h3.235v3.235h-3.235zM64.7 74.405h3.235v3.235h-3.235zM80.875 74.405h3.235v3.235h-3.235zM100.285 74.405h3.235v3.235h-3.235zM6.47 77.64h3.235v3.235h-3.235zM9.705 77.64h3.235v3.235h-3.235zM16.175 77.64h3.235v3.235h-3.235zM19.41 77.64h3.235v3.235h-3.235zM38.82 77.64h3.235v3.235h-3.235zM61.465 77.64h3.235v3.235h-3.235zM67.935 77.64h3.235v3.235h-3.235zM71.17 77.64h3.235v3.235h-3.235zM77.64 77.64h3.235v3.235h-3.235zM87.345 77.64h3.235v3.235h-3.235zM100.285 77.64h3.235v3.235h-3.235zM6.47 80.875h3.235v3.235h-3.235zM12.94 80.875h3.235v3.235h-3.235zM19.41 80.875h3.235v3.235h-3.235zM22.645 80.875h3.235v3.235h-3.235zM32.35 80.875h3.235v3.235h-3.235zM61.465 80.875h3.235v3.235h-3.235zM67.935 80.875h3.235v3.235h-3.235zM80.875 80.875h3.235v3.235h-3.235zM93.815 80.875h3.235v3.235h-3.235zM16.175 84.11h3.235v3.235h-3.235zM19.41 84.11h3.235v3.235h-3.235zM32.35 84.11h3.235v3.235h-3.235zM42.055 84.11h3.235v3.235h-3.235zM61.465 84.11h3.235v3.235h-3.235zM64.7 84.11h3.235v3.235h-3.235zM77.64 84.11h3.235v3.235h-3.235zM90.58 84.11h3.235v3.235h-3.235zM93.815 84.11h3.235v3.235h-3.235zM16.175 87.345h3.235v3.235h-3.235zM19.41 87.345h3.235v3.235h-3.235zM32.35 87.345h3.235v3.235h-3.235zM77.64 87.345h3.235v3.235h-3.235zM84.11 87.345h3.235v3.235h-3.235zM93.815 87.345h3.235v3.235h-3.235zM25.88 90.58h3.235v3.235h-3.235zM35.585 90.58h3.235v3.235h-3.235zM42.055 90.58h3.235v3.235h-3.235zM45.29 90.58h3.235v3.235h-3.235zM48.525 90.58h3.235v3.235h-3.235zM64.7 90.58h3.235v3.235h-3.235zM74.405 90.58h3.235v3.235h-3.235zM16.175 93.815h3.235v3.235h-3.235zM19.41 93.815h3.235v3.235h-3.235zM22.645 93.815h3.235v3.235h-3.235zM25.88 93.815h3.235v3.235h-3.235zM45.29 93.815h3.235v3.235h-3.235zM54.995 93.815h3.235v3.235h-3.235zM58.23 93.815h3.235v3.235h-3.235zM61.465 93.815h3.235v3.235h-3.235zM67.935 93.815h3.235v3.235h-3.235zM77.64 93.815h3.235v3.235h-3.235zM12.94 97.05h3.235v3.235h-3.235zM35.585 97.05h3.235v3.235h-3.235zM45.29 97.05h3.235v3.235h-3.235zM48.525 97.05h3.235v3.235h-3.235zM67.935 97.05h3.235v3.235h-3.235zM71.17 97.05h3.235v3.235h-3.235zM77.64 97.05h3.235v3.235h-3.235zM80.875 97.05h3.235v3.235h-3.235zM90.58 97.05h3.235v3.235h-3.235zM16.175 100.285h3.235v3.235h-3.235zM29.115 100.285h3.235v3.235h-3.235zM35.585 100.285h3.235v3.235h-3.235zM45.29 100.285h3.235v3.235h-3.235zM54.995 100.285h3.235v3.235h-3.235zM58.23 100.285h3.235v3.235h-3.235zM64.7 100.285h3.235v3.235h-3.235zM71.17 100.285h3.235v3.235h-3.235zM77.64 100.285h3.235v3.235h-3.235zM80.875 100.285h3.235v3.235h-3.235zM87.345 100.285h3.235v3.235h-3.235zM12.94 103.52h3.235v3.235h-3.235zM16.175 103.52h3.235v3.235h-3.235zM19.41 103.52h3.235v3.235h-3.235zM22.645 103.52h3.235v3.235h-3.235zM29.115 103.52h3.235v3.235h-3.235zM48.525 103.52h3.235v3.235h-3.235zM54.995 103.52h3.235v3.235h-3.235zM58.23 103.52h3.235v3.235h-3.235zM64.7 103.52h3.235v3.235h-3.235zM67.935 103.52h3.235v3.235h-3.235zM80.875 103.52h3.235v3.235h-3.235zM87.345 103.52h3.235v3.235h-3.235zM19.41 106.755h3.235v3.235h-3.235zM22.645 106.755h3.235v3.235h-3.235zM25.88 106.755h3.235v3.235h-3.235zM32.35 106.755h3.235v3.235h-3.235zM35.585 106.755h3.235v3.235h-3.235zM38.82 106.755h3.235v3.235h-3.235zM71.17 106.755h3.235v3.235h-3.235zM74.405 106.755h3.235v3.235h-3.235zM9.705 109.99h3.235v3.235h-3.235zM12.94 109.99h3.235v3.235h-3.235zM16.175 109.99h3.235v3.235h-3.235zM19.41 109.99h3.235v3.235h-3.235zM32.35 109.99h3.235v3.235h-3.235zM35.585 109.99h3.235v3.235h-3.235zM38.82 109.99h3.235v3.235h-3.235zM42.055 109.99h3.235v3.235h-3.235zM45.29 109.99h3.235v3.235h-3.235zM54.995 109.99h3.235v3.235h-3.235zM58.23 109.99h3.235v3.235h-3.235zM61.465 109.99h3.235v3.235h-3.235zM64.7 109.99h3.235v3.235h-3.235zM67.935 109.99h3.235v3.235h-3.235zM74.405 109.99h3.235v3.235h-3.235zM9.705 113.225h3.235v3.235h-3.235zM19.41 113.225h3.235v3.235h-3.235zM25.88 113.225h3.235v3.235h-3.235zM29.115 113.225h3.235v3.235h-3.235zM38.82 113.225h3.235v3.235h-3.235zM42.055 113.225h3.235v3.235h-3.235zM45.29 113.225h3.235v3.235h-3.235zM58.23 113.225h3.235v3.235h-3.235zM80.875 113.225h3.235v3.235h-3.235zM35.585 116.46h3.235v3.235h-3.235zM54.995 116.46h3.235v3.235h-3.235zM58.23 116.46h3.235v3.235h-3.235zM74.405 116.46h3.235v3.235h-3.235zM77.64 116.46h3.235v3.235h-3.235zM80.875 116.46h3.235v3.235h-3.235zM61.465 119.695h3.235v3.235h-3.235zM64.7 119.695h3.235v3.235h-3.235zM71.17 119.695h3.235v3.235h-3.235zM38.82 122.93h3.235v3.235h-3.235zM42.055 122.93h3.235v3.235h-3.235zM45.29 122.93h3.235v3.235h-3.235zM51.76 122.93h3.235v3.235h-3.235zM54.995 122.93h3.235v3.235h-3.235zM77.64 122.93h3.235v3.235h-3.235zM42.055 126.165h3.235v3.235h-3.235zM45.29 126.165h3.235v3.235h-3.235zM58.23 126.165h3.235v3.235h-3.235zM61.465 126.165h3.235v3.235h-3.235zM80.875 126.165h3.235v3.235h-3.235zM84.11 126.165h3.235v3.235h-3.235zM42.055 129.4h3.235v3.235h-3.235zM54.995 129.4h3.235v3.235h-3.235zM74.405 129.4h3.235v3.235h-3.235zM84.11 129.4h3.235v3.235h-3.235zM87.345 129.4h3.235v3.235h-3.235zM42.055 132.635h3.235v3.235h-3.235zM45.29 132.635h3.235v3.235h-3.235zM51.76 132.635h3.235v3.235h-3.235zM54.995 132.635h3.235v3.235h-3.235zM61.465 132.635h3.235v3.235h-3.235zM67.935 132.635h3.235v3.235h-3.235zM71.17 132.635h3.235v3.235h-3.235zM74.405 132.635h3.235v3.235h-3.235zM80.875 132.635h3.235v3.235h-3.235zM64.7 135.87h3.235v3.235h-3.235zM87.345 135.87h3.235v3.235h-3.235z" fill="#7ab3a6" stroke="#6691a0" stroke-width="1.05"/>
<path d="M54.995 19.41h3.235v3.235h-3.235zM51.76 29.115h3.235v3.235h-3.235zM35.585 35.585h3.235v3.235h-3.235zM38.82 35.585h3.235v3.235h-3.235zM35.585 38.82h3.235v3.235h-3.235zM38.82 38.82h3.235v3.235h-3.235zM38.82 42.055h3.235v3.235h-3.235zM64.7 42.055h3.235v3.235h-3.235zM54.995 45.29h3.235v3.235h-3.235zM61.465 45.29h3.235v3.235h-3.235zM64.7 45.29h3.235v3.235h-3.235zM87.345 45.29h3.235v3.235h-3.235zM32.35 48.525h3.235v3.235h-3.235zM38.82 48.525h3.235v3.235h-3.235zM54.995 48.525h3.235v3.235h-3.235zM61.465 48.525h3.235v3.235h-3.235zM64.7 48.525h3.235v3.235h-3.235zM87.345 48.525h3.235v3.235h-3.235zM35.585 51.76h3.235v3.235h-3.235zM38.82 51.76h3.235v3.235h-3.235zM64.7 51.76h3.235v3.235h-3.235zM67.935 51.76h3.235v3.235h-3.235zM35.585 54.995h3.235v3.235h-3.235zM61.465 54.995h3.235v3.235h-3.235zM35.585 58.23h3.235v3.235h-3.235zM54.995 58.23h3.235v3.235h-3.235zM61.465 58.23h3.235v3.235h-3.235zM64.7 58.23h3.235v3.235h-3.235zM29.115 61.465h3.235v3.235h-3.235zM54.995 61.465h3.235v3.235h-3.235zM38.82 64.7h3.235v3.235h-3.235zM42.055 64.7h3.235v3.235h-3.235zM54.995 64.7h3.235v3.235h-3.235zM58.23 64.7h3.235v3.235h-3.235zM61.465 64.7h3.235v3.235h-3.235zM64.7 64.7h3.235v3.235h-3.235zM84.11 64.7h3.235v3.235h-3.235zM32.35 67.935h3.235v3.235h-3.235zM35.585 67.935h3.235v3.235h-3.235zM38.82 67.935h3.235v3.235h-3.235zM54.995 67.935h3.235v3.235h-3.235zM58.23 67.935h3.235v3.235h-3.235zM61.465 67.935h3.235v3.235h-3.235zM29.115 71.17h3.235v3.235h-3.235zM51.76 77.64h3.235v3.235h-3.235zM64.7 77.64h3.235v3.235h-3.235zM29.115 80.875h3.235v3.235h-3.235zM42.055 80.875h3.235v3.235h-3.235zM48.525 80.875h3.235v3.235h-3.235zM51.76 80.875h3.235v3.235h-3.235zM54.995 80.875h3.235v3.235h-3.235zM58.23 80.875h3.235v3.235h-3.235zM48.525 84.11h3.235v3.235h-3.235zM51.76 84.11h3.235v3.235h-3.235zM48.525 87.345h3.235v3.235h-3.235zM48.525 93.815h3.235v3.235h-3.235zM35.585 103.52h3.235v3.235h-3.235z" fill="#f1e07f" stroke="#8d917c" stroke-width="0.85"/>
<path d="M61.465 42.055h3.235v3.235h-3.235zM51.76 45.29h3.235v3.235h-3.235zM58.23 45.29h3.235v3.235h-3.235zM35.585 48.525h3.235v3.235h-3.235zM51.76 48.525h3.235v3.235h-3.235zM58.23 48.525h3.235v3.235h-3.235zM45.29 51.76h3.235v3.235h-3.235zM48.525 51.76h3.235v3.235h-3.235zM51.76 51.76h3.235v3.235h-3.235zM54.995 51.76h3.235v3.235h-3.235zM58.23 51.76h3.235v3.235h-3.235zM38.82 54.995h3.235v3.235h-3.235zM48.525 54.995h3.235v3.235h-3.235zM38.82 58.23h3.235v3.235h-3.235zM51.76 58.23h3.235v3.235h-3.235zM35.585 61.465h3.235v3.235h-3.235zM38.82 61.465h3.235v3.235h-3.235zM35.585 64.7h3.235v3.235h-3.235zM45.29 64.7h3.235v3.235h-3.235zM45.29 67.935h3.235v3.235h-3.235zM51.76 67.935h3.235v3.235h-3.235zM51.76 71.17h3.235v3.235h-3.235zM54.995 71.17h3.235v3.235h-3.235zM38.82 74.405h3.235v3.235h-3.235zM54.995 74.405h3.235v3.235h-3.235zM58.23 74.405h3.235v3.235h-3.235zM45.29 77.64h3.235v3.235h-3.235zM48.525 77.64h3.235v3.235h-3.235zM54.995 77.64h3.235v3.235h-3.235zM58.23 77.64h3.235v3.235h-3.235zM45.29 80.875h3.235v3.235h-3.235z" fill="#f6a354" stroke="#92866e" stroke-width="0.85"/>
<path d="M42.055 54.995h3.235v3.235h-3.235zM45.29 54.995h3.235v3.235h-3.235zM51.76 54.995h3.235v3.235h-3.235zM54.995 54.995h3.235v3.235h-3.235zM42.055 58.23h3.235v3.235h-3.235zM45.29 58.23h3.235v3.235h-3.235zM48.525 58.23h3.235v3.235h-3.235zM42.055 61.465h3.235v3.235h-3.235zM45.29 61.465h3.235v3.235h-3.235zM48.525 61.465h3.235v3.235h-3.235zM48.525 64.7h3.235v3.235h-3.235zM51.76 64.7h3.235v3.235h-3.235zM48.525 67.935h3.235v3.235h-3.235z" fill="#d5412a" stroke="#c4472e" stroke-width="0.6"/>
</g>
<g transform="translate(568.8 651.6)" filter="url(#bt)">
<use href="#arw" y="0"/>
<text class="n" x="6.2" y="6.6" text-anchor="middle">N</text>
<use href="#sbar" y="0"/>
<text class="s" x="-1.6" y="51.5">0</text><text class="s" x="24.2" y="51.5" textLength="20.6" lengthAdjust="spacing">4 km</text>
<text class="v" x="-0.2" y="81">Values</text>
<rect x="0.3" y="86.9" width="16" height="8" fill="#2f8bc4" stroke="#7c7c6c" stroke-width="0.7"/>
<text class="l" x="18.1" y="94.8">0 - 145</text>
<rect x="0.3" y="97.8" width="16" height="8" fill="#6cb8ad" stroke="#7c7c6c" stroke-width="0.7"/>
<text class="l" x="18.1" y="105.7">146 - 499</text>
<rect x="0.3" y="108.7" width="16" height="8" fill="#f0e57c" stroke="#7c7c6c" stroke-width="0.7"/>
<text class="l" x="18.1" y="116.6">500 - 1148</text>
<rect x="0.3" y="119.6" width="16" height="8" fill="#fda650" stroke="#7c7c6c" stroke-width="0.7"/>
<text class="l" x="18.1" y="127.5">1149 - 2280</text>
<rect x="0.3" y="130.5" width="16" height="8" fill="#f0361c" stroke="#7c7c6c" stroke-width="0.7"/>
<text class="l" x="18.1" y="138.4">2281 - 4593</text>
</g>
<text class="c" filter="url(#bt)" x="485.9" y="819" textLength="92.5" lengthAdjust="spacing">(o) Population</text>
<!-- panel p -->
<g transform="translate(672.4 651.6)" filter="url(#bm)">
<use href="#base"/>
<path d="M32.35 16.175h3.235v3.235h-3.235zM42.055 16.175h3.235v3.235h-3.235zM45.29 29.115h3.235v3.235h-3.235zM51.76 32.35h3.235v3.235h-3.235zM29.115 35.585h3.235v3.235h-3.235zM32.35 35.585h3.235v3.235h-3.235zM35.585 35.585h3.235v3.235h-3.235zM38.82 35.585h3.235v3.235h-3.235zM42.055 35.585h3.235v3.235h-3.235zM61.465 35.585h3.235v3.235h-3.235zM29.115 38.82h3.235v3.235h-3.235zM32.35 38.82h3.235v3.235h-3.235zM38.82 38.82h3.235v3.235h-3.235zM42.055 38.82h3.235v3.235h-3.235zM45.29 38.82h3.235v3.235h-3.235zM61.465 38.82h3.235v3.235h-3.235zM64.7 38.82h3.235v3.235h-3.235zM67.935 38.82h3.235v3.235h-3.235zM71.17 38.82h3.235v3.235h-3.235zM77.64 38.82h3.235v3.235h-3.235zM29.115 42.055h3.235v3.235h-3.235zM35.585 42.055h3.235v3.235h-3.235zM38.82 42.055h3.235v3.235h-3.235zM42.055 42.055h3.235v3.235h-3.235zM48.525 42.055h3.235v3.235h-3.235zM58.23 42.055h3.235v3.235h-3.235zM61.465 42.055h3.235v3.235h-3.235zM67.935 42.055h3.235v3.235h-3.235zM71.17 42.055h3.235v3.235h-3.235zM77.64 42.055h3.235v3.235h-3.235zM80.875 42.055h3.235v3.235h-3.235zM84.11 42.055h3.235v3.235h-3.235zM87.345 42.055h3.235v3.235h-3.235zM32.35 45.29h3.235v3.235h-3.235zM35.585 45.29h3.235v3.235h-3.235zM45.29 45.29h3.235v3.235h-3.235zM48.525 45.29h3.235v3.235h-3.235zM58.23 45.29h3.235v3.235h-3.235zM61.465 45.29h3.235v3.235h-3.235zM67.935 45.29h3.235v3.235h-3.235zM25.88 48.525h3.235v3.235h-3.235zM48.525 48.525h3.235v3.235h-3.235zM51.76 48.525h3.235v3.235h-3.235zM71.17 48.525h3.235v3.235h-3.235zM25.88 51.76h3.235v3.235h-3.235zM29.115 51.76h3.235v3.235h-3.235zM32.35 51.76h3.235v3.235h-3.235zM35.585 51.76h3.235v3.235h-3.235zM38.82 51.76h3.235v3.235h-3.235zM42.055 51.76h3.235v3.235h-3.235zM58.23 51.76h3.235v3.235h-3.235zM61.465 51.76h3.235v3.235h-3.235zM64.7 51.76h3.235v3.235h-3.235zM19.41 54.995h3.235v3.235h-3.235zM25.88 54.995h3.235v3.235h-3.235zM29.115 54.995h3.235v3.235h-3.235zM61.465 54.995h3.235v3.235h-3.235zM64.7 54.995h3.235v3.235h-3.235zM67.935 54.995h3.235v3.235h-3.235zM19.41 58.23h3.235v3.235h-3.235zM22.645 58.23h3.235v3.235h-3.235zM25.88 58.23h3.235v3.235h-3.235zM29.115 58.23h3.235v3.235h-3.235zM71.17 58.23h3.235v3.235h-3.235zM74.405 58.23h3.235v3.235h-3.235zM25.88 61.465h3.235v3.235h-3.235zM29.115 61.465h3.235v3.235h-3.235zM58.23 61.465h3.235v3.235h-3.235zM61.465 61.465h3.235v3.235h-3.235zM67.935 61.465h3.235v3.235h-3.235zM22.645 64.7h3.235v3.235h-3.235zM25.88 64.7h3.235v3.235h-3.235zM35.585 64.7h3.235v3.235h-3.235zM61.465 64.7h3.235v3.235h-3.235zM64.7 64.7h3.235v3.235h-3.235zM67.935 64.7h3.235v3.235h-3.235zM84.11 64.7h3.235v3.235h-3.235zM90.58 64.7h3.235v3.235h-3.235zM16.175 67.935h3.235v3.235h-3.235zM19.41 67.935h3.235v3.235h-3.235zM22.645 67.935h3.235v3.235h-3.235zM32.35 67.935h3.235v3.235h-3.235zM35.585 67.935h3.235v3.235h-3.235zM38.82 67.935h3.235v3.235h-3.235zM61.465 67.935h3.235v3.235h-3.235zM71.17 67.935h3.235v3.235h-3.235zM74.405 67.935h3.235v3.235h-3.235zM77.64 67.935h3.235v3.235h-3.235zM22.645 71.17h3.235v3.235h-3.235zM25.88 71.17h3.235v3.235h-3.235zM48.525 71.17h3.235v3.235h-3.235zM58.23 71.17h3.235v3.235h-3.235zM61.465 71.17h3.235v3.235h-3.235zM64.7 71.17h3.235v3.235h-3.235zM67.935 71.17h3.235v3.235h-3.235zM77.64 71.17h3.235v3.235h-3.235zM38.82 74.405h3.235v3.235h-3.235zM61.465 74.405h3.235v3.235h-3.235zM64.7 74.405h3.235v3.235h-3.235zM67.935 74.405h3.235v3.235h-3.235zM97.05 74.405h3.235v3.235h-3.235zM29.115 77.64h3.235v3.235h-3.235zM32.35 77.64h3.235v3.235h-3.235zM38.82 77.64h3.235v3.235h-3.235zM45.29 77.64h3.235v3.235h-3.235zM58.23 77.64h3.235v3.235h-3.235zM61.465 77.64h3.235v3.235h-3.235zM67.935 77.64h3.235v3.235h-3.235zM25.88 80.875h3.235v3.235h-3.235zM29.115 80.875h3.235v3.235h-3.235zM32.35 80.875h3.235v3.235h-3.235zM35.585 80.875h3.235v3.235h-3.235zM38.82 80.875h3.235v3.235h-3.235zM42.055 80.875h3.235v3.235h-3.235zM45.29 80.875h3.235v3.235h-3.235zM54.995 80.875h3.235v3.235h-3.235zM61.465 80.875h3.235v3.235h-3.235zM64.7 80.875h3.235v3.235h-3.235zM67.935 80.875h3.235v3.235h-3.235zM77.64 80.875h3.235v3.235h-3.235zM6.47 84.11h3.235v3.235h-3.235zM25.88 84.11h3.235v3.235h-3.235zM29.115 84.11h3.235v3.235h-3.235zM32.35 84.11h3.235v3.235h-3.235zM38.82 84.11h3.235v3.235h-3.235zM48.525 84.11h3.235v3.235h-3.235zM38.82 87.345h3.235v3.235h-3.235zM42.055 87.345h3.235v3.235h-3.235zM45.29 87.345h3.235v3.235h-3.235zM51.76 87.345h3.235v3.235h-3.235zM54.995 87.345h3.235v3.235h-3.235zM61.465 87.345h3.235v3.235h-3.235zM42.055 90.58h3.235v3.235h-3.235zM45.29 90.58h3.235v3.235h-3.235zM51.76 90.58h3.235v3.235h-3.235zM54.995 90.58h3.235v3.235h-3.235zM38.82 93.815h3.235v3.235h-3.235zM54.995 97.05h3.235v3.235h-3.235zM35.585 100.285h3.235v3.235h-3.235zM38.82 100.285h3.235v3.235h-3.235zM9.705 103.52h3.235v3.235h-3.235zM35.585 103.52h3.235v3.235h-3.235zM38.82 103.52h3.235v3.235h-3.235zM51.76 106.755h3.235v3.235h-3.235zM58.23 106.755h3.235v3.235h-3.235zM51.76 109.99h3.235v3.235h-3.235zM61.465 109.99h3.235v3.235h-3.235zM84.11 109.99h3.235v3.235h-3.235zM25.88 116.46h3.235v3.235h-3.235zM71.17 116.46h3.235v3.235h-3.235z" fill="#7ab3a6" stroke="#6691a0" stroke-width="1.05"/>
<path d="M35.585 38.82h3.235v3.235h-3.235zM45.29 42.055h3.235v3.235h-3.235zM74.405 42.055h3.235v3.235h-3.235zM42.055 45.29h3.235v3.235h-3.235zM51.76 45.29h3.235v3.235h-3.235zM54.995 45.29h3.235v3.235h-3.235zM32.35 48.525h3.235v3.235h-3.235zM35.585 48.525h3.235v3.235h-3.235zM38.82 48.525h3.235v3.235h-3.235zM45.29 48.525h3.235v3.235h-3.235zM58.23 48.525h3.235v3.235h-3.235zM61.465 48.525h3.235v3.235h-3.235zM67.935 48.525h3.235v3.235h-3.235zM54.995 51.76h3.235v3.235h-3.235zM32.35 54.995h3.235v3.235h-3.235zM35.585 54.995h3.235v3.235h-3.235zM54.995 54.995h3.235v3.235h-3.235zM58.23 54.995h3.235v3.235h-3.235zM35.585 58.23h3.235v3.235h-3.235zM54.995 58.23h3.235v3.235h-3.235zM58.23 58.23h3.235v3.235h-3.235zM61.465 58.23h3.235v3.235h-3.235zM67.935 58.23h3.235v3.235h-3.235zM32.35 61.465h3.235v3.235h-3.235zM38.82 61.465h3.235v3.235h-3.235zM54.995 61.465h3.235v3.235h-3.235zM64.7 61.465h3.235v3.235h-3.235zM29.115 64.7h3.235v3.235h-3.235zM32.35 64.7h3.235v3.235h-3.235zM38.82 64.7h3.235v3.235h-3.235zM42.055 64.7h3.235v3.235h-3.235zM51.76 64.7h3.235v3.235h-3.235zM58.23 64.7h3.235v3.235h-3.235zM42.055 67.935h3.235v3.235h-3.235zM45.29 67.935h3.235v3.235h-3.235zM48.525 67.935h3.235v3.235h-3.235zM58.23 67.935h3.235v3.235h-3.235zM67.935 67.935h3.235v3.235h-3.235zM32.35 71.17h3.235v3.235h-3.235zM35.585 71.17h3.235v3.235h-3.235zM38.82 71.17h3.235v3.235h-3.235zM29.115 74.405h3.235v3.235h-3.235zM32.35 74.405h3.235v3.235h-3.235zM35.585 74.405h3.235v3.235h-3.235zM45.29 74.405h3.235v3.235h-3.235zM54.995 74.405h3.235v3.235h-3.235zM58.23 74.405h3.235v3.235h-3.235zM35.585 77.64h3.235v3.235h-3.235zM42.055 77.64h3.235v3.235h-3.235zM48.525 77.64h3.235v3.235h-3.235zM54.995 77.64h3.235v3.235h-3.235zM64.7 77.64h3.235v3.235h-3.235zM48.525 80.875h3.235v3.235h-3.235zM51.76 80.875h3.235v3.235h-3.235zM35.585 84.11h3.235v3.235h-3.235zM45.29 84.11h3.235v3.235h-3.235zM51.76 84.11h3.235v3.235h-3.235zM54.995 84.11h3.235v3.235h-3.235zM38.82 90.58h3.235v3.235h-3.235zM48.525 90.58h3.235v3.235h-3.235zM58.23 90.58h3.235v3.235h-3.235zM48.525 93.815h3.235v3.235h-3.235zM58.23 93.815h3.235v3.235h-3.235zM48.525 97.05h3.235v3.235h-3.235zM29.115 103.52h3.235v3.235h-3.235zM54.995 109.99h3.235v3.235h-3.235zM58.23 113.225h3.235v3.235h-3.235z" fill="#f1e07f" stroke="#8d917c" stroke-width="0.85"/>
<path d="M64.7 42.055h3.235v3.235h-3.235zM64.7 45.29h3.235v3.235h-3.235zM42.055 48.525h3.235v3.235h-3.235zM54.995 48.525h3.235v3.235h-3.235zM64.7 48.525h3.235v3.235h-3.235zM51.76 51.76h3.235v3.235h-3.235zM38.82 54.995h3.235v3.235h-3.235zM38.82 58.23h3.235v3.235h-3.235zM42.055 58.23h3.235v3.235h-3.235zM45.29 58.23h3.235v3.235h-3.235zM51.76 58.23h3.235v3.235h-3.235zM35.585 61.465h3.235v3.235h-3.235zM42.055 61.465h3.235v3.235h-3.235zM45.29 61.465h3.235v3.235h-3.235zM51.76 61.465h3.235v3.235h-3.235zM45.29 64.7h3.235v3.235h-3.235zM48.525 64.7h3.235v3.235h-3.235zM29.115 67.935h3.235v3.235h-3.235zM29.115 71.17h3.235v3.235h-3.235zM42.055 71.17h3.235v3.235h-3.235zM45.29 71.17h3.235v3.235h-3.235zM51.76 71.17h3.235v3.235h-3.235zM42.055 74.405h3.235v3.235h-3.235zM51.76 74.405h3.235v3.235h-3.235zM42.055 84.11h3.235v3.235h-3.235zM54.995 93.815h3.235v3.235h-3.235zM54.995 113.225h3.235v3.235h-3.235z" fill="#f6a354" stroke="#92866e" stroke-width="0.85"/>
<path d="M45.29 51.76h3.235v3.235h-3.235zM48.525 51.76h3.235v3.235h-3.235zM42.055 54.995h3.235v3.235h-3.235zM45.29 54.995h3.235v3.235h-3.235zM48.525 54.995h3.235v3.235h-3.235zM51.76 54.995h3.235v3.235h-3.235zM48.525 58.23h3.235v3.235h-3.235zM48.525 61.465h3.235v3.235h-3.235zM51.76 77.64h3.235v3.235h-3.235z" fill="#d5412a" stroke="#c4472e" stroke-width="0.6"/>
</g>
<g transform="translate(792.2 651.6)" filter="url(#bt)">
<use href="#arw" y="0"/>
<text class="n" x="6.2" y="6.6" text-anchor="middle">N</text>
<use href="#sbar" y="0"/>
<text class="s" x="-1.6" y="51.5">0</text><text class="s" x="24.2" y="51.5" textLength="20.6" lengthAdjust="spacing">4 km</text>
<text class="v" x="-0.2" y="81">Values</text>
<rect x="0.3" y="86.9" width="16" height="8" fill="#2f8bc4" stroke="#7c7c6c" stroke-width="0.7"/>
<text class="l" x="18.1" y="94.8">0 - 5</text>
<rect x="0.3" y="97.8" width="16" height="8" fill="#6cb8ad" stroke="#7c7c6c" stroke-width="0.7"/>
<text class="l" x="18.1" y="105.7">6 - 15</text>
<rect x="0.3" y="108.7" width="16" height="8" fill="#f0e57c" stroke="#7c7c6c" stroke-width="0.7"/>
<text class="l" x="18.1" y="116.6">16 - 30</text>
<rect x="0.3" y="119.6" width="16" height="8" fill="#fda650" stroke="#7c7c6c" stroke-width="0.7"/>
<text class="l" x="18.1" y="127.5">31 - 52</text>
<rect x="0.3" y="130.5" width="16" height="8" fill="#f0361c" stroke="#7c7c6c" stroke-width="0.7"/>
<text class="l" x="18.1" y="138.4">53 - 148</text>
</g>
<text class="c" filter="url(#bt)" x="674.3" y="819" textLength="163.3" lengthAdjust="spacing">(p) Surveillance Cameras</text>
</svg></body></html>
